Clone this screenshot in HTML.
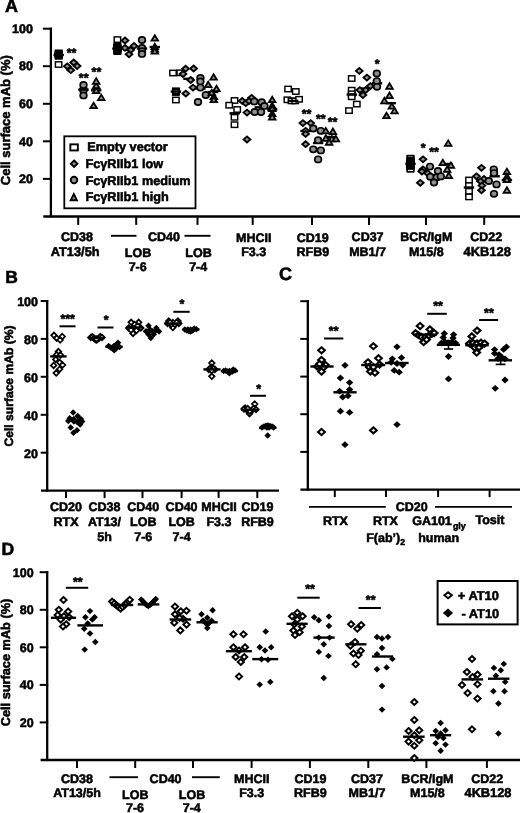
<!DOCTYPE html>
<html lang="en">
<head>
<meta charset="utf-8">
<title>Cell surface mAb figure</title>
<style>
html,body{margin:0;padding:0;background:#fff;}
body{width:520px;height:813px;overflow:hidden;}
svg{display:block;will-change:transform;}
svg text{font-family:"Liberation Sans",Arial,Helvetica,sans-serif;font-weight:bold;fill:#000;stroke:#000;stroke-width:0.55px;text-rendering:geometricPrecision;}
</style>
</head>
<body>
<svg width="520" height="813" viewBox="0 0 520 813">
<rect x="0" y="0" width="520" height="813" fill="#fff"/>
<text x="5.0" y="12.3" text-anchor="start" font-size="18.0" >A</text>
<line x1="50.9" y1="27.7" x2="50.9" y2="217.5" stroke="#000" stroke-width="2.3"/>
<line x1="42.9" y1="28.7" x2="51.9" y2="28.7" stroke="#000" stroke-width="2"/>
<text x="32.9" y="32.9" text-anchor="end" font-size="12.5" >100</text>
<line x1="42.9" y1="66.2" x2="51.9" y2="66.2" stroke="#000" stroke-width="2"/>
<text x="32.9" y="70.4" text-anchor="end" font-size="12.5" >80</text>
<line x1="42.9" y1="103.8" x2="51.9" y2="103.8" stroke="#000" stroke-width="2"/>
<text x="32.9" y="107.9" text-anchor="end" font-size="12.5" >60</text>
<line x1="42.9" y1="141.3" x2="51.9" y2="141.3" stroke="#000" stroke-width="2"/>
<text x="32.9" y="145.5" text-anchor="end" font-size="12.5" >40</text>
<line x1="42.9" y1="178.9" x2="51.9" y2="178.9" stroke="#000" stroke-width="2"/>
<text x="32.9" y="183.0" text-anchor="end" font-size="12.5" >20</text>
<text transform="translate(9.9,120.2) rotate(-90)" text-anchor="middle" font-size="13.0">Cell surface mAb (%)</text>
<line x1="43.3" y1="216.5" x2="520.0" y2="216.5" stroke="#000" stroke-width="2.3"/>
<line x1="78.2" y1="216.4" x2="78.2" y2="224.9" stroke="#000" stroke-width="2"/>
<line x1="136.2" y1="216.4" x2="136.2" y2="224.9" stroke="#000" stroke-width="2"/>
<line x1="197.5" y1="216.4" x2="197.5" y2="224.9" stroke="#000" stroke-width="2"/>
<line x1="252.7" y1="216.4" x2="252.7" y2="224.9" stroke="#000" stroke-width="2"/>
<line x1="312.0" y1="216.4" x2="312.0" y2="224.9" stroke="#000" stroke-width="2"/>
<line x1="369.0" y1="216.4" x2="369.0" y2="224.9" stroke="#000" stroke-width="2"/>
<line x1="426.0" y1="216.4" x2="426.0" y2="224.9" stroke="#000" stroke-width="2"/>
<line x1="484.2" y1="216.4" x2="484.2" y2="224.9" stroke="#000" stroke-width="2"/>
<text x="77.0" y="241.3" text-anchor="middle" font-size="12.5" >CD38</text>
<text x="75.2" y="256.1" text-anchor="middle" font-size="12.8" >AT13/5h</text>
<text x="164.0" y="241.3" text-anchor="middle" font-size="12.5" >CD40</text>
<line x1="111.0" y1="235.8" x2="136.5" y2="235.8" stroke="#000" stroke-width="1.9"/>
<line x1="184.5" y1="235.8" x2="210.5" y2="235.8" stroke="#000" stroke-width="1.9"/>
<text x="138.0" y="256.6" text-anchor="middle" font-size="12.5" >LOB</text>
<text x="137.7" y="271.0" text-anchor="middle" font-size="12.5" >7-6</text>
<text x="198.5" y="256.6" text-anchor="middle" font-size="12.5" >LOB</text>
<text x="198.2" y="271.0" text-anchor="middle" font-size="12.5" >7-4</text>
<text x="253.7" y="241.6" text-anchor="middle" font-size="12.5" >MHCII</text>
<text x="253.7" y="256.2" text-anchor="middle" font-size="12.5" >F3.3</text>
<text x="312.8" y="241.6" text-anchor="middle" font-size="12.5" >CD19</text>
<text x="312.8" y="256.2" text-anchor="middle" font-size="12.5" >RFB9</text>
<text x="367.6" y="241.4" text-anchor="middle" font-size="12.5" >CD37</text>
<text x="367.6" y="256.1" text-anchor="middle" font-size="12.5" >MB1/7</text>
<text x="426.3" y="241.3" text-anchor="middle" font-size="12.5" >BCR/IgM</text>
<text x="426.3" y="256.1" text-anchor="middle" font-size="12.5" >M15/8</text>
<text x="486.2" y="241.3" text-anchor="middle" font-size="12.5" >CD22</text>
<text x="487.2" y="256.1" text-anchor="middle" font-size="12.9" >4KB128</text>
<rect x="64.3" y="136.3" width="131.2" height="72.0" fill="#fff" stroke="#000" stroke-width="1.8"/>
<rect x="70.35" y="144.35" width="7.50" height="6.10" fill="#fff" stroke="#000" stroke-width="1.9"/>
<text x="87.3" y="151.3" text-anchor="start" font-size="12.7" >Empty vector</text>
<polygon points="74.1,160.50 77.40,163.7 74.1,166.90 70.80,163.7" fill="#909090" stroke="#000" stroke-width="1.9"/>
<text x="85.5" y="168.0" text-anchor="start" font-size="12.7" >FcγRIIb1 low</text>
<ellipse cx="74.0" cy="180.0" rx="3.3" ry="3.3" fill="#8e8e8e" stroke="#000" stroke-width="1.85"/>
<text x="85.5" y="184.8" text-anchor="start" font-size="12.7" >FcγRIIb1 medium</text>
<polygon points="73.8,194.0 76.9,200.2 70.7,200.2" fill="#909090" stroke="#000" stroke-width="1.9"/>
<text x="85.5" y="201.4" text-anchor="start" font-size="12.7" >FcγRIIb1 high</text>
<line x1="91.0" y1="90.3" x2="101.4" y2="90.3" stroke="#000" stroke-width="2.4"/>
<rect x="55.40" y="61.80" width="6.40" height="5.40" fill="#fff" stroke="#000" stroke-width="1.45"/>
<rect x="55.50" y="51.90" width="6.40" height="5.40" fill="#fff" stroke="#000" stroke-width="1.45"/>
<rect x="55.50" y="53.60" width="6.40" height="5.40" fill="none" stroke="#000" stroke-width="1.45"/>
<rect x="55.50" y="52.90" width="6.40" height="5.40" fill="none" stroke="#000" stroke-width="1.45"/>
<rect x="55.50" y="52.20" width="6.40" height="5.40" fill="none" stroke="#000" stroke-width="1.45"/>
<rect x="55.50" y="51.50" width="6.40" height="5.40" fill="none" stroke="#000" stroke-width="1.45"/>
<rect x="55.50" y="50.80" width="6.40" height="5.40" fill="none" stroke="#000" stroke-width="1.45"/>
<rect x="55.50" y="50.20" width="6.40" height="5.40" fill="none" stroke="#000" stroke-width="1.45"/>
<polygon points="70.8,67.25 74.20,70.2 70.8,73.15 67.40,70.2" fill="#909090" stroke="#000" stroke-width="1.8"/>
<polygon points="67.3,63.35 70.70,66.3 67.3,69.25 63.90,66.3" fill="#909090" stroke="#000" stroke-width="1.8"/>
<polygon points="77.1,63.05 80.50,66.0 77.1,68.95 73.70,66.0" fill="#909090" stroke="#000" stroke-width="1.8"/>
<polygon points="73.7,59.55 77.10,62.5 73.7,65.45 70.30,62.5" fill="#909090" stroke="#000" stroke-width="1.8"/>
<ellipse cx="83.5" cy="89.4" rx="3.35" ry="3.1" fill="#8e8e8e" stroke="#000" stroke-width="1.65"/>
<ellipse cx="83.5" cy="90.6" rx="3.35" ry="3.1" fill="#8e8e8e" stroke="#000" stroke-width="1.65"/>
<ellipse cx="83.5" cy="85.0" rx="3.35" ry="3.1" fill="#8e8e8e" stroke="#000" stroke-width="1.65"/>
<ellipse cx="83.5" cy="95.4" rx="3.35" ry="3.1" fill="#8e8e8e" stroke="#000" stroke-width="1.65"/>
<polygon points="93.6,102.7 96.9,108.2 90.3,108.2" fill="#909090" stroke="#000" stroke-width="1.75"/>
<polygon points="101.3,94.6 104.6,100.1 98.0,100.1" fill="#909090" stroke="#000" stroke-width="1.75"/>
<polygon points="96.2,87.7 99.5,93.2 92.9,93.2" fill="#909090" stroke="#000" stroke-width="1.75"/>
<polygon points="96.2,82.7 99.5,88.2 92.9,88.2" fill="#909090" stroke="#000" stroke-width="1.75"/>
<polygon points="96.2,78.3 99.5,83.8 92.9,83.8" fill="#909090" stroke="#000" stroke-width="1.75"/>
<line x1="53.5" y1="55.0" x2="63.9" y2="55.0" stroke="#000" stroke-width="2.4"/>
<line x1="78.3" y1="89.6" x2="88.7" y2="89.6" stroke="#000" stroke-width="2.4"/>
<line x1="123.8" y1="47.9" x2="134.2" y2="47.9" stroke="#000" stroke-width="2.4"/>
<line x1="136.8" y1="48.5" x2="147.2" y2="48.5" stroke="#000" stroke-width="2.4"/>
<line x1="149.6" y1="47.0" x2="160.0" y2="47.0" stroke="#000" stroke-width="2.4"/>
<rect x="114.20" y="36.90" width="6.40" height="5.40" fill="#fff" stroke="#000" stroke-width="1.45"/>
<rect x="114.20" y="46.10" width="6.40" height="5.40" fill="#fff" stroke="#000" stroke-width="1.45"/>
<rect x="114.20" y="48.90" width="6.40" height="5.40" fill="none" stroke="#000" stroke-width="1.45"/>
<rect x="114.20" y="48.10" width="6.40" height="5.40" fill="none" stroke="#000" stroke-width="1.45"/>
<rect x="114.20" y="47.30" width="6.40" height="5.40" fill="none" stroke="#000" stroke-width="1.45"/>
<rect x="114.20" y="46.50" width="6.40" height="5.40" fill="none" stroke="#000" stroke-width="1.45"/>
<rect x="114.20" y="45.70" width="6.40" height="5.40" fill="none" stroke="#000" stroke-width="1.45"/>
<rect x="114.20" y="44.90" width="6.40" height="5.40" fill="none" stroke="#000" stroke-width="1.45"/>
<rect x="114.20" y="44.10" width="6.40" height="5.40" fill="none" stroke="#000" stroke-width="1.45"/>
<rect x="114.20" y="43.30" width="6.40" height="5.40" fill="none" stroke="#000" stroke-width="1.45"/>
<polygon points="125.0,37.55 128.40,40.5 125.0,43.45 121.60,40.5" fill="#909090" stroke="#000" stroke-width="1.8"/>
<polygon points="125.0,44.95 128.40,47.9 125.0,50.85 121.60,47.9" fill="#909090" stroke="#000" stroke-width="1.8"/>
<polygon points="134.0,42.95 137.40,45.9 134.0,48.85 130.60,45.9" fill="#909090" stroke="#000" stroke-width="1.8"/>
<polygon points="130.6,47.05 134.00,50.0 130.6,52.95 127.20,50.0" fill="#909090" stroke="#000" stroke-width="1.8"/>
<polygon points="129.0,51.35 132.40,54.3 129.0,57.25 125.60,54.3" fill="#909090" stroke="#000" stroke-width="1.8"/>
<ellipse cx="142.0" cy="40.0" rx="3.35" ry="3.1" fill="#8e8e8e" stroke="#000" stroke-width="1.65"/>
<ellipse cx="142.0" cy="47.9" rx="3.35" ry="3.1" fill="#8e8e8e" stroke="#000" stroke-width="1.65"/>
<ellipse cx="142.0" cy="51.2" rx="3.35" ry="3.1" fill="#8e8e8e" stroke="#000" stroke-width="1.65"/>
<ellipse cx="142.0" cy="53.9" rx="3.35" ry="3.1" fill="#8e8e8e" stroke="#000" stroke-width="1.65"/>
<polygon points="154.8,35.2 158.1,40.7 151.5,40.7" fill="#909090" stroke="#000" stroke-width="1.75"/>
<polygon points="154.8,43.7 158.1,49.2 151.5,49.2" fill="#909090" stroke="#000" stroke-width="1.75"/>
<polygon points="154.8,46.2 158.1,51.7 151.5,51.7" fill="#909090" stroke="#000" stroke-width="1.75"/>
<polygon points="154.8,48.2 158.1,53.7 151.5,53.7" fill="#909090" stroke="#000" stroke-width="1.75"/>
<line x1="112.2" y1="48.6" x2="122.6" y2="48.6" stroke="#000" stroke-width="2.4"/>
<line x1="183.3" y1="78.8" x2="193.7" y2="78.8" stroke="#000" stroke-width="2.4"/>
<line x1="195.2" y1="88.5" x2="205.6" y2="88.5" stroke="#000" stroke-width="2.4"/>
<line x1="207.8" y1="92.0" x2="218.2" y2="92.0" stroke="#000" stroke-width="2.4"/>
<rect x="169.80" y="70.30" width="6.40" height="5.40" fill="#fff" stroke="#000" stroke-width="1.45"/>
<rect x="177.00" y="70.10" width="6.40" height="5.40" fill="#fff" stroke="#000" stroke-width="1.45"/>
<rect x="172.70" y="97.30" width="6.40" height="5.40" fill="#fff" stroke="#000" stroke-width="1.45"/>
<rect x="172.70" y="88.90" width="6.40" height="5.40" fill="#fff" stroke="#000" stroke-width="1.45"/>
<rect x="172.70" y="89.80" width="6.40" height="5.40" fill="none" stroke="#000" stroke-width="1.45"/>
<rect x="172.70" y="88.90" width="6.40" height="5.40" fill="none" stroke="#000" stroke-width="1.45"/>
<rect x="172.70" y="88.10" width="6.40" height="5.40" fill="none" stroke="#000" stroke-width="1.45"/>
<polygon points="185.6,65.75 189.00,68.7 185.6,71.65 182.20,68.7" fill="#909090" stroke="#000" stroke-width="1.8"/>
<polygon points="193.6,65.55 197.00,68.5 193.6,71.45 190.20,68.5" fill="#909090" stroke="#000" stroke-width="1.8"/>
<polygon points="183.0,71.05 186.40,74.0 183.0,76.95 179.60,74.0" fill="#909090" stroke="#000" stroke-width="1.8"/>
<polygon points="190.7,77.05 194.10,80.0 190.7,82.95 187.30,80.0" fill="#909090" stroke="#000" stroke-width="1.8"/>
<polygon points="193.0,84.65 196.40,87.6 193.0,90.55 189.60,87.6" fill="#909090" stroke="#000" stroke-width="1.8"/>
<polygon points="185.8,90.65 189.20,93.6 185.8,96.55 182.40,93.6" fill="#909090" stroke="#000" stroke-width="1.8"/>
<ellipse cx="200.4" cy="78.0" rx="3.35" ry="3.1" fill="#8e8e8e" stroke="#000" stroke-width="1.65"/>
<ellipse cx="200.4" cy="81.5" rx="3.35" ry="3.1" fill="#8e8e8e" stroke="#000" stroke-width="1.65"/>
<ellipse cx="200.4" cy="87.6" rx="3.35" ry="3.1" fill="#8e8e8e" stroke="#000" stroke-width="1.65"/>
<ellipse cx="205.8" cy="95.0" rx="3.35" ry="3.1" fill="#8e8e8e" stroke="#000" stroke-width="1.65"/>
<ellipse cx="198.0" cy="102.0" rx="3.35" ry="3.1" fill="#8e8e8e" stroke="#000" stroke-width="1.65"/>
<polygon points="213.6,74.2 216.9,79.7 210.3,79.7" fill="#909090" stroke="#000" stroke-width="1.75"/>
<polygon points="208.2,81.7 211.5,87.2 204.9,87.2" fill="#909090" stroke="#000" stroke-width="1.75"/>
<polygon points="216.5,85.7 219.8,91.2 213.2,91.2" fill="#909090" stroke="#000" stroke-width="1.75"/>
<polygon points="211.8,89.7 215.1,95.2 208.5,95.2" fill="#909090" stroke="#000" stroke-width="1.75"/>
<polygon points="213.8,93.7 217.1,99.2 210.5,99.2" fill="#909090" stroke="#000" stroke-width="1.75"/>
<polygon points="213.8,96.7 217.1,102.2 210.5,102.2" fill="#909090" stroke="#000" stroke-width="1.75"/>
<line x1="170.7" y1="91.6" x2="181.1" y2="91.6" stroke="#000" stroke-width="2.4"/>
<line x1="229.5" y1="113.3" x2="239.9" y2="113.3" stroke="#000" stroke-width="2.4"/>
<line x1="241.8" y1="101.8" x2="252.2" y2="101.8" stroke="#000" stroke-width="2.4"/>
<line x1="254.6" y1="107.3" x2="265.0" y2="107.3" stroke="#000" stroke-width="2.4"/>
<line x1="267.0" y1="109.5" x2="277.4" y2="109.5" stroke="#000" stroke-width="2.4"/>
<rect x="231.30" y="97.80" width="6.40" height="5.40" fill="#fff" stroke="#000" stroke-width="1.45"/>
<rect x="226.00" y="102.50" width="6.40" height="5.40" fill="#fff" stroke="#000" stroke-width="1.45"/>
<rect x="234.00" y="106.80" width="6.40" height="5.40" fill="#fff" stroke="#000" stroke-width="1.45"/>
<rect x="231.30" y="114.60" width="6.40" height="5.40" fill="#fff" stroke="#000" stroke-width="1.45"/>
<rect x="231.30" y="122.00" width="6.40" height="5.40" fill="#fff" stroke="#000" stroke-width="1.45"/>
<polygon points="242.2,97.95 245.60,100.9 242.2,103.85 238.80,100.9" fill="#909090" stroke="#000" stroke-width="1.8"/>
<polygon points="245.8,100.25 249.20,103.2 245.8,106.15 242.40,103.2" fill="#909090" stroke="#000" stroke-width="1.8"/>
<polygon points="251.6,94.85 255.00,97.8 251.6,100.75 248.20,97.8" fill="#909090" stroke="#000" stroke-width="1.8"/>
<polygon points="249.0,98.05 252.40,101.0 249.0,103.95 245.60,101.0" fill="#909090" stroke="#000" stroke-width="1.8"/>
<polygon points="247.0,109.65 250.40,112.6 247.0,115.55 243.60,112.6" fill="#909090" stroke="#000" stroke-width="1.8"/>
<polygon points="247.0,136.55 250.40,139.5 247.0,142.45 243.60,139.5" fill="#909090" stroke="#000" stroke-width="1.8"/>
<ellipse cx="254.3" cy="101.4" rx="3.35" ry="3.1" fill="#8e8e8e" stroke="#000" stroke-width="1.65"/>
<ellipse cx="261.7" cy="102.2" rx="3.35" ry="3.1" fill="#8e8e8e" stroke="#000" stroke-width="1.65"/>
<ellipse cx="264.4" cy="105.9" rx="3.35" ry="3.1" fill="#8e8e8e" stroke="#000" stroke-width="1.65"/>
<ellipse cx="254.7" cy="112.0" rx="3.35" ry="3.1" fill="#8e8e8e" stroke="#000" stroke-width="1.65"/>
<ellipse cx="261.0" cy="112.0" rx="3.35" ry="3.1" fill="#8e8e8e" stroke="#000" stroke-width="1.65"/>
<polygon points="272.2,96.7 275.5,102.2 268.9,102.2" fill="#909090" stroke="#000" stroke-width="1.75"/>
<polygon points="272.2,102.6 275.5,108.1 268.9,108.1" fill="#909090" stroke="#000" stroke-width="1.75"/>
<polygon points="272.2,105.7 275.5,111.2 268.9,111.2" fill="#909090" stroke="#000" stroke-width="1.75"/>
<polygon points="272.2,110.7 275.5,116.2 268.9,116.2" fill="#909090" stroke="#000" stroke-width="1.75"/>
<polygon points="272.2,114.0 275.5,119.5 268.9,119.5" fill="#909090" stroke="#000" stroke-width="1.75"/>
<line x1="300.4" y1="131.0" x2="310.8" y2="131.0" stroke="#000" stroke-width="2.4"/>
<line x1="312.9" y1="143.0" x2="323.3" y2="143.0" stroke="#000" stroke-width="2.4"/>
<line x1="325.3" y1="137.0" x2="335.7" y2="137.0" stroke="#000" stroke-width="2.4"/>
<rect x="284.90" y="86.30" width="6.40" height="5.40" fill="#fff" stroke="#000" stroke-width="1.45"/>
<rect x="292.60" y="88.80" width="6.40" height="5.40" fill="#fff" stroke="#000" stroke-width="1.45"/>
<rect x="284.20" y="97.10" width="6.40" height="5.40" fill="#fff" stroke="#000" stroke-width="1.45"/>
<rect x="288.30" y="98.20" width="6.40" height="5.40" fill="#fff" stroke="#000" stroke-width="1.45"/>
<rect x="292.00" y="98.20" width="6.40" height="5.40" fill="#fff" stroke="#000" stroke-width="1.45"/>
<rect x="295.90" y="96.60" width="6.40" height="5.40" fill="#fff" stroke="#000" stroke-width="1.45"/>
<polygon points="302.9,120.15 306.30,123.1 302.9,126.05 299.50,123.1" fill="#909090" stroke="#000" stroke-width="1.8"/>
<polygon points="310.7,120.15 314.10,123.1 310.7,126.05 307.30,123.1" fill="#909090" stroke="#000" stroke-width="1.8"/>
<polygon points="305.6,127.85 309.00,130.8 305.6,133.75 302.20,130.8" fill="#909090" stroke="#000" stroke-width="1.8"/>
<polygon points="305.6,130.95 309.00,133.9 305.6,136.85 302.20,133.9" fill="#909090" stroke="#000" stroke-width="1.8"/>
<polygon points="305.6,141.25 309.00,144.2 305.6,147.15 302.20,144.2" fill="#909090" stroke="#000" stroke-width="1.8"/>
<ellipse cx="313.3" cy="128.5" rx="3.35" ry="3.1" fill="#8e8e8e" stroke="#000" stroke-width="1.65"/>
<ellipse cx="320.8" cy="130.8" rx="3.35" ry="3.1" fill="#8e8e8e" stroke="#000" stroke-width="1.65"/>
<ellipse cx="318.1" cy="140.2" rx="3.35" ry="3.1" fill="#8e8e8e" stroke="#000" stroke-width="1.65"/>
<ellipse cx="313.3" cy="149.3" rx="3.35" ry="3.1" fill="#8e8e8e" stroke="#000" stroke-width="1.65"/>
<ellipse cx="320.8" cy="150.4" rx="3.35" ry="3.1" fill="#8e8e8e" stroke="#000" stroke-width="1.65"/>
<ellipse cx="318.1" cy="159.4" rx="3.35" ry="3.1" fill="#8e8e8e" stroke="#000" stroke-width="1.65"/>
<polygon points="325.8,127.9 329.1,133.4 322.5,133.4" fill="#909090" stroke="#000" stroke-width="1.75"/>
<polygon points="332.9,128.5 336.2,134.0 329.6,134.0" fill="#909090" stroke="#000" stroke-width="1.75"/>
<polygon points="325.8,135.3 329.1,140.8 322.5,140.8" fill="#909090" stroke="#000" stroke-width="1.75"/>
<polygon points="331.8,135.9 335.1,141.4 328.5,141.4" fill="#909090" stroke="#000" stroke-width="1.75"/>
<polygon points="335.9,135.9 339.2,141.4 332.6,141.4" fill="#909090" stroke="#000" stroke-width="1.75"/>
<polygon points="329.1,139.3 332.4,144.8 325.8,144.8" fill="#909090" stroke="#000" stroke-width="1.75"/>
<line x1="288.0" y1="100.9" x2="298.4" y2="100.9" stroke="#000" stroke-width="2.4"/>
<line x1="358.8" y1="88.5" x2="369.2" y2="88.5" stroke="#000" stroke-width="2.4"/>
<line x1="371.8" y1="83.3" x2="382.2" y2="83.3" stroke="#000" stroke-width="2.4"/>
<line x1="385.5" y1="103.2" x2="395.9" y2="103.2" stroke="#000" stroke-width="2.4"/>
<rect x="348.50" y="75.80" width="6.40" height="5.40" fill="#fff" stroke="#000" stroke-width="1.45"/>
<rect x="348.50" y="87.50" width="6.40" height="5.40" fill="#fff" stroke="#000" stroke-width="1.45"/>
<rect x="348.50" y="91.10" width="6.40" height="5.40" fill="#fff" stroke="#000" stroke-width="1.45"/>
<rect x="348.50" y="94.10" width="6.40" height="5.40" fill="#fff" stroke="#000" stroke-width="1.45"/>
<rect x="353.60" y="101.40" width="6.40" height="5.40" fill="#fff" stroke="#000" stroke-width="1.45"/>
<rect x="345.80" y="107.90" width="6.40" height="5.40" fill="#fff" stroke="#000" stroke-width="1.45"/>
<polygon points="359.3,67.95 362.70,70.9 359.3,73.85 355.90,70.9" fill="#909090" stroke="#000" stroke-width="1.8"/>
<polygon points="366.9,74.65 370.30,77.6 366.9,80.55 363.50,77.6" fill="#909090" stroke="#000" stroke-width="1.8"/>
<polygon points="370.3,83.15 373.70,86.1 370.3,89.05 366.90,86.1" fill="#909090" stroke="#000" stroke-width="1.8"/>
<polygon points="365.6,87.15 369.00,90.1 365.6,93.05 362.20,90.1" fill="#909090" stroke="#000" stroke-width="1.8"/>
<polygon points="359.8,87.15 363.20,90.1 359.8,93.05 356.40,90.1" fill="#909090" stroke="#000" stroke-width="1.8"/>
<polygon points="362.9,92.15 366.30,95.1 362.9,98.05 359.50,95.1" fill="#909090" stroke="#000" stroke-width="1.8"/>
<ellipse cx="376.8" cy="73.5" rx="3.35" ry="3.1" fill="#8e8e8e" stroke="#000" stroke-width="1.65"/>
<ellipse cx="376.8" cy="81.1" rx="3.35" ry="3.1" fill="#8e8e8e" stroke="#000" stroke-width="1.65"/>
<ellipse cx="377.0" cy="86.8" rx="3.35" ry="3.1" fill="#8e8e8e" stroke="#000" stroke-width="1.65"/>
<polygon points="389.5,83.3 392.8,88.8 386.2,88.8" fill="#909090" stroke="#000" stroke-width="1.75"/>
<polygon points="389.5,92.5 392.8,98.0 386.2,98.0" fill="#909090" stroke="#000" stroke-width="1.75"/>
<polygon points="384.4,97.8 387.7,103.3 381.1,103.3" fill="#909090" stroke="#000" stroke-width="1.75"/>
<polygon points="391.8,103.2 395.1,108.7 388.5,108.7" fill="#909090" stroke="#000" stroke-width="1.75"/>
<polygon points="394.5,107.9 397.8,113.4 391.2,113.4" fill="#909090" stroke="#000" stroke-width="1.75"/>
<polygon points="386.5,112.7 389.8,118.2 383.2,118.2" fill="#909090" stroke="#000" stroke-width="1.75"/>
<line x1="346.6" y1="94.6" x2="357.0" y2="94.6" stroke="#000" stroke-width="2.4"/>
<line x1="417.8" y1="171.0" x2="428.2" y2="171.0" stroke="#000" stroke-width="2.4"/>
<line x1="429.8" y1="175.0" x2="440.2" y2="175.0" stroke="#000" stroke-width="2.4"/>
<line x1="442.3" y1="164.0" x2="452.7" y2="164.0" stroke="#000" stroke-width="2.4"/>
<rect x="407.30" y="166.30" width="6.40" height="5.40" fill="#fff" stroke="#000" stroke-width="1.45"/>
<rect x="407.30" y="155.60" width="6.40" height="5.40" fill="#fff" stroke="#000" stroke-width="1.45"/>
<rect x="407.30" y="166.30" width="6.40" height="5.40" fill="none" stroke="#000" stroke-width="1.45"/>
<rect x="407.30" y="155.60" width="6.40" height="5.40" fill="none" stroke="#000" stroke-width="1.45"/>
<rect x="407.30" y="163.70" width="6.40" height="5.40" fill="none" stroke="#000" stroke-width="1.45"/>
<rect x="407.30" y="163.20" width="6.40" height="5.40" fill="none" stroke="#000" stroke-width="1.45"/>
<rect x="407.30" y="162.40" width="6.40" height="5.40" fill="none" stroke="#000" stroke-width="1.45"/>
<rect x="407.30" y="161.60" width="6.40" height="5.40" fill="none" stroke="#000" stroke-width="1.45"/>
<rect x="407.30" y="160.80" width="6.40" height="5.40" fill="none" stroke="#000" stroke-width="1.45"/>
<rect x="407.30" y="160.00" width="6.40" height="5.40" fill="none" stroke="#000" stroke-width="1.45"/>
<rect x="407.30" y="159.20" width="6.40" height="5.40" fill="none" stroke="#000" stroke-width="1.45"/>
<rect x="407.30" y="158.40" width="6.40" height="5.40" fill="none" stroke="#000" stroke-width="1.45"/>
<rect x="407.30" y="157.60" width="6.40" height="5.40" fill="none" stroke="#000" stroke-width="1.45"/>
<polygon points="423.0,156.35 426.40,159.3 423.0,162.25 419.60,159.3" fill="#909090" stroke="#000" stroke-width="1.8"/>
<polygon points="423.0,166.35 426.40,169.3 423.0,172.25 419.60,169.3" fill="#909090" stroke="#000" stroke-width="1.8"/>
<polygon points="421.9,168.55 425.30,171.5 421.9,174.45 418.50,171.5" fill="#909090" stroke="#000" stroke-width="1.8"/>
<polygon points="427.6,170.35 431.00,173.3 427.6,176.25 424.20,173.3" fill="#909090" stroke="#000" stroke-width="1.8"/>
<polygon points="420.3,179.85 423.70,182.8 420.3,185.75 416.90,182.8" fill="#909090" stroke="#000" stroke-width="1.8"/>
<ellipse cx="430.0" cy="166.6" rx="3.35" ry="3.1" fill="#8e8e8e" stroke="#000" stroke-width="1.65"/>
<ellipse cx="438.0" cy="171.0" rx="3.35" ry="3.1" fill="#8e8e8e" stroke="#000" stroke-width="1.65"/>
<ellipse cx="430.3" cy="176.8" rx="3.35" ry="3.1" fill="#8e8e8e" stroke="#000" stroke-width="1.65"/>
<ellipse cx="436.7" cy="177.4" rx="3.35" ry="3.1" fill="#8e8e8e" stroke="#000" stroke-width="1.65"/>
<ellipse cx="440.8" cy="176.4" rx="3.35" ry="3.1" fill="#8e8e8e" stroke="#000" stroke-width="1.65"/>
<ellipse cx="434.0" cy="182.5" rx="3.35" ry="3.1" fill="#8e8e8e" stroke="#000" stroke-width="1.65"/>
<polygon points="448.2,140.4 451.5,145.9 444.9,145.9" fill="#909090" stroke="#000" stroke-width="1.75"/>
<polygon points="442.8,159.7 446.1,165.2 439.5,165.2" fill="#909090" stroke="#000" stroke-width="1.75"/>
<polygon points="450.9,162.4 454.2,167.9 447.6,167.9" fill="#909090" stroke="#000" stroke-width="1.75"/>
<polygon points="447.2,166.4 450.5,171.9 443.9,171.9" fill="#909090" stroke="#000" stroke-width="1.75"/>
<polygon points="448.8,172.5 452.1,178.0 445.5,178.0" fill="#909090" stroke="#000" stroke-width="1.75"/>
<line x1="405.3" y1="163.8" x2="415.7" y2="163.8" stroke="#000" stroke-width="2.4"/>
<line x1="476.3" y1="180.5" x2="486.7" y2="180.5" stroke="#000" stroke-width="2.4"/>
<line x1="489.4" y1="176.3" x2="499.8" y2="176.3" stroke="#000" stroke-width="2.4"/>
<line x1="501.7" y1="180.0" x2="512.1" y2="180.0" stroke="#000" stroke-width="2.4"/>
<rect x="465.80" y="177.30" width="6.40" height="5.40" fill="#fff" stroke="#000" stroke-width="1.45"/>
<rect x="465.80" y="182.90" width="6.40" height="5.40" fill="#fff" stroke="#000" stroke-width="1.45"/>
<rect x="465.80" y="188.60" width="6.40" height="5.40" fill="#fff" stroke="#000" stroke-width="1.45"/>
<rect x="465.80" y="194.20" width="6.40" height="5.40" fill="#fff" stroke="#000" stroke-width="1.45"/>
<polygon points="481.5,164.85 484.90,167.8 481.5,170.75 478.10,167.8" fill="#909090" stroke="#000" stroke-width="1.8"/>
<polygon points="476.5,173.35 479.90,176.3 476.5,179.25 473.10,176.3" fill="#909090" stroke="#000" stroke-width="1.8"/>
<polygon points="484.0,176.05 487.40,179.0 484.0,181.95 480.60,179.0" fill="#909090" stroke="#000" stroke-width="1.8"/>
<polygon points="480.6,178.35 484.00,181.3 480.6,184.25 477.20,181.3" fill="#909090" stroke="#000" stroke-width="1.8"/>
<polygon points="481.9,182.65 485.30,185.6 481.9,188.55 478.50,185.6" fill="#909090" stroke="#000" stroke-width="1.8"/>
<polygon points="481.5,187.35 484.90,190.3 481.5,193.25 478.10,190.3" fill="#909090" stroke="#000" stroke-width="1.8"/>
<ellipse cx="493.8" cy="169.4" rx="3.35" ry="3.1" fill="#8e8e8e" stroke="#000" stroke-width="1.65"/>
<ellipse cx="494.0" cy="173.1" rx="3.35" ry="3.1" fill="#8e8e8e" stroke="#000" stroke-width="1.65"/>
<ellipse cx="488.8" cy="181.0" rx="3.35" ry="3.1" fill="#8e8e8e" stroke="#000" stroke-width="1.65"/>
<ellipse cx="496.5" cy="184.4" rx="3.35" ry="3.1" fill="#8e8e8e" stroke="#000" stroke-width="1.65"/>
<ellipse cx="494.0" cy="193.8" rx="3.35" ry="3.1" fill="#8e8e8e" stroke="#000" stroke-width="1.65"/>
<polygon points="506.9,168.6 510.2,174.1 503.6,174.1" fill="#909090" stroke="#000" stroke-width="1.75"/>
<polygon points="506.9,173.6 510.2,179.1 503.6,179.1" fill="#909090" stroke="#000" stroke-width="1.75"/>
<polygon points="506.9,176.7 510.2,182.2 503.6,182.2" fill="#909090" stroke="#000" stroke-width="1.75"/>
<polygon points="506.9,187.3 510.2,192.8 503.6,192.8" fill="#909090" stroke="#000" stroke-width="1.75"/>
<line x1="463.8" y1="187.5" x2="474.2" y2="187.5" stroke="#000" stroke-width="2.4"/>
<text x="71.6" y="56.7" text-anchor="middle" font-size="12.5" >**</text>
<text x="83.7" y="81.7" text-anchor="middle" font-size="12.5" >**</text>
<text x="96.4" y="76.0" text-anchor="middle" font-size="12.5" >**</text>
<text x="306.5" y="118.2" text-anchor="middle" font-size="12.5" >**</text>
<text x="320.8" y="122.7" text-anchor="middle" font-size="12.5" >**</text>
<text x="332.5" y="125.9" text-anchor="middle" font-size="12.5" >**</text>
<text x="377.3" y="67.7" text-anchor="middle" font-size="12.5" >*</text>
<text x="423.3" y="151.8" text-anchor="middle" font-size="12.5" >*</text>
<text x="434.0" y="156.4" text-anchor="middle" font-size="12.5" >**</text>
<text x="5.3" y="282.7" text-anchor="start" font-size="17.5" >B</text>
<line x1="47.2" y1="300.0" x2="47.2" y2="491.7" stroke="#000" stroke-width="2.3"/>
<line x1="40.7" y1="301.0" x2="48.2" y2="301.0" stroke="#000" stroke-width="2"/>
<text x="38.0" y="305.9" text-anchor="end" font-size="12.5" >100</text>
<line x1="40.7" y1="338.9" x2="48.2" y2="338.9" stroke="#000" stroke-width="2"/>
<text x="38.0" y="343.8" text-anchor="end" font-size="12.5" >80</text>
<line x1="40.7" y1="376.8" x2="48.2" y2="376.8" stroke="#000" stroke-width="2"/>
<text x="38.0" y="381.7" text-anchor="end" font-size="12.5" >60</text>
<line x1="40.7" y1="414.8" x2="48.2" y2="414.8" stroke="#000" stroke-width="2"/>
<text x="38.0" y="419.7" text-anchor="end" font-size="12.5" >40</text>
<line x1="40.7" y1="452.7" x2="48.2" y2="452.7" stroke="#000" stroke-width="2"/>
<text x="38.0" y="457.6" text-anchor="end" font-size="12.5" >20</text>
<text transform="translate(12.8,386.0) rotate(-90)" text-anchor="middle" font-size="12.1">Cell surface mAb (%)</text>
<line x1="41.0" y1="490.6" x2="279.0" y2="490.6" stroke="#000" stroke-width="2.3"/>
<line x1="66.0" y1="490.6" x2="66.0" y2="498.1" stroke="#000" stroke-width="2"/>
<line x1="104.6" y1="490.6" x2="104.6" y2="498.1" stroke="#000" stroke-width="2"/>
<line x1="142.5" y1="490.6" x2="142.5" y2="498.1" stroke="#000" stroke-width="2"/>
<line x1="181.6" y1="490.6" x2="181.6" y2="498.1" stroke="#000" stroke-width="2"/>
<line x1="218.6" y1="490.6" x2="218.6" y2="498.1" stroke="#000" stroke-width="2"/>
<line x1="257.3" y1="490.6" x2="257.3" y2="498.1" stroke="#000" stroke-width="2"/>
<text x="66.0" y="511.0" text-anchor="middle" font-size="12.5" >CD20</text>
<text x="66.0" y="525.8" text-anchor="middle" font-size="12.5" >RTX</text>
<text x="104.5" y="511.0" text-anchor="middle" font-size="12.5" >CD38</text>
<text x="104.5" y="525.8" text-anchor="middle" font-size="12.5" >AT13/</text>
<text x="104.5" y="540.6" text-anchor="middle" font-size="12.5" >5h</text>
<text x="143.3" y="511.0" text-anchor="middle" font-size="12.5" >CD40</text>
<text x="143.3" y="525.8" text-anchor="middle" font-size="12.5" >LOB</text>
<text x="143.3" y="540.6" text-anchor="middle" font-size="12.5" >7-6</text>
<text x="181.6" y="511.0" text-anchor="middle" font-size="12.5" >CD40</text>
<text x="181.6" y="525.8" text-anchor="middle" font-size="12.5" >LOB</text>
<text x="181.6" y="540.6" text-anchor="middle" font-size="12.5" >7-4</text>
<text x="219.0" y="511.0" text-anchor="middle" font-size="12.5" >MHCII</text>
<text x="219.0" y="525.8" text-anchor="middle" font-size="12.5" >F3.3</text>
<text x="257.5" y="511.0" text-anchor="middle" font-size="12.5" >CD19</text>
<text x="257.5" y="525.8" text-anchor="middle" font-size="12.5" >RFB9</text>
<polygon points="54.0,332.55 56.75,335.3 54.0,338.05 51.25,335.3" fill="#fff" stroke="#000" stroke-width="1.75"/>
<polygon points="62.2,333.75 64.95,336.5 62.2,339.25 59.45,336.5" fill="#fff" stroke="#000" stroke-width="1.75"/>
<polygon points="56.7,335.45 59.45,338.2 56.7,340.95 53.95,338.2" fill="#fff" stroke="#000" stroke-width="1.75"/>
<polygon points="60.1,337.25 62.85,340.0 60.1,342.75 57.35,340.0" fill="#fff" stroke="#000" stroke-width="1.75"/>
<polygon points="58.4,348.85 61.15,351.6 58.4,354.35 55.65,351.6" fill="#fff" stroke="#000" stroke-width="1.75"/>
<polygon points="56.7,351.95 59.45,354.7 56.7,357.45 53.95,354.7" fill="#fff" stroke="#000" stroke-width="1.75"/>
<polygon points="60.5,352.25 63.25,355.0 60.5,357.75 57.75,355.0" fill="#fff" stroke="#000" stroke-width="1.75"/>
<polygon points="55.7,356.65 58.45,359.4 55.7,362.15 52.95,359.4" fill="#fff" stroke="#000" stroke-width="1.75"/>
<polygon points="59.6,359.55 62.35,362.3 59.6,365.05 56.85,362.3" fill="#fff" stroke="#000" stroke-width="1.75"/>
<polygon points="53.6,362.65 56.35,365.4 53.6,368.15 50.85,365.4" fill="#fff" stroke="#000" stroke-width="1.75"/>
<polygon points="62.6,362.25 65.35,365.0 62.6,367.75 59.85,365.0" fill="#fff" stroke="#000" stroke-width="1.75"/>
<polygon points="59.6,366.45 62.35,369.2 59.6,371.95 56.85,369.2" fill="#fff" stroke="#000" stroke-width="1.75"/>
<polygon points="56.2,370.35 58.95,373.1 56.2,375.85 53.45,373.1" fill="#fff" stroke="#000" stroke-width="1.75"/>
<line x1="50.2" y1="356.4" x2="66.6" y2="356.4" stroke="#000" stroke-width="2.4"/>
<polygon points="73.2,409.35 76.45,412.6 73.2,415.85 69.95,412.6" fill="#000"/>
<polygon points="69.7,414.95 72.95,418.2 69.7,421.45 66.45,418.2" fill="#000"/>
<polygon points="68.3,417.65 71.55,420.9 68.3,424.15 65.05,420.9" fill="#000"/>
<polygon points="73.9,415.65 77.15,418.9 73.9,422.15 70.65,418.9" fill="#000"/>
<polygon points="77.7,412.85 80.95,416.1 77.7,419.35 74.45,416.1" fill="#000"/>
<polygon points="80.8,415.65 84.05,418.9 80.8,422.15 77.55,418.9" fill="#000"/>
<polygon points="82.2,418.35 85.45,421.6 82.2,424.85 78.95,421.6" fill="#000"/>
<polygon points="80.1,421.15 83.35,424.4 80.1,427.65 76.85,424.4" fill="#000"/>
<polygon points="77.3,419.05 80.55,422.3 77.3,425.55 74.05,422.3" fill="#000"/>
<polygon points="73.9,418.35 77.15,421.6 73.9,424.85 70.65,421.6" fill="#000"/>
<polygon points="70.7,424.25 73.95,427.5 70.7,430.75 67.45,427.5" fill="#000"/>
<polygon points="77.0,427.05 80.25,430.3 77.0,433.55 73.75,430.3" fill="#000"/>
<polygon points="73.5,429.45 76.75,432.7 73.5,435.95 70.25,432.7" fill="#000"/>
<line x1="66.5" y1="420.5" x2="82.1" y2="420.5" stroke="#000" stroke-width="2.4"/>
<text x="67.7" y="323.4" text-anchor="middle" font-size="12.5" >***</text>
<line x1="59.6" y1="326.3" x2="75.6" y2="326.3" stroke="#000" stroke-width="2"/>
<polygon points="90.8,334.85 93.55,337.6 90.8,340.35 88.05,337.6" fill="#fff" stroke="#000" stroke-width="1.75"/>
<polygon points="92.4,334.05 95.15,336.8 92.4,339.55 89.65,336.8" fill="#fff" stroke="#000" stroke-width="1.75"/>
<polygon points="94.0,335.45 96.75,338.2 94.0,340.95 91.25,338.2" fill="#fff" stroke="#000" stroke-width="1.75"/>
<polygon points="95.4,336.65 98.15,339.4 95.4,342.15 92.65,339.4" fill="#fff" stroke="#000" stroke-width="1.75"/>
<polygon points="96.4,337.25 99.15,340.0 96.4,342.75 93.65,340.0" fill="#fff" stroke="#000" stroke-width="1.75"/>
<polygon points="97.4,336.65 100.15,339.4 97.4,342.15 94.65,339.4" fill="#fff" stroke="#000" stroke-width="1.75"/>
<polygon points="98.8,335.45 101.55,338.2 98.8,340.95 96.05,338.2" fill="#fff" stroke="#000" stroke-width="1.75"/>
<polygon points="100.4,333.85 103.15,336.6 100.4,339.35 97.65,336.6" fill="#fff" stroke="#000" stroke-width="1.75"/>
<polygon points="102.0,334.65 104.75,337.4 102.0,340.15 99.25,337.4" fill="#fff" stroke="#000" stroke-width="1.75"/>
<polygon points="96.4,336.25 99.15,339.0 96.4,341.75 93.65,339.0" fill="#fff" stroke="#000" stroke-width="1.75"/>
<line x1="88.2" y1="338.0" x2="104.6" y2="338.0" stroke="#000" stroke-width="2.4"/>
<polygon points="108.6,342.75 111.85,346.0 108.6,349.25 105.35,346.0" fill="#000"/>
<polygon points="110.6,344.15 113.85,347.4 110.6,350.65 107.35,347.4" fill="#000"/>
<polygon points="112.6,345.35 115.85,348.6 112.6,351.85 109.35,348.6" fill="#000"/>
<polygon points="114.2,346.95 117.45,350.2 114.2,353.45 110.95,350.2" fill="#000"/>
<polygon points="116.0,345.15 119.25,348.4 116.0,351.65 112.75,348.4" fill="#000"/>
<polygon points="117.8,343.15 121.05,346.4 117.8,349.65 114.55,346.4" fill="#000"/>
<polygon points="119.6,343.75 122.85,347.0 119.6,350.25 116.35,347.0" fill="#000"/>
<polygon points="118.0,339.55 121.25,342.8 118.0,346.05 114.75,342.8" fill="#000"/>
<polygon points="115.4,341.95 118.65,345.2 115.4,348.45 112.15,345.2" fill="#000"/>
<polygon points="113.6,342.95 116.85,346.2 113.6,349.45 110.35,346.2" fill="#000"/>
<line x1="105.4" y1="346.8" x2="122.6" y2="346.8" stroke="#000" stroke-width="2.4"/>
<text x="106.1" y="323.9" text-anchor="middle" font-size="12.5" >*</text>
<line x1="97.5" y1="327.5" x2="113.5" y2="327.5" stroke="#000" stroke-width="2"/>
<polygon points="131.2,319.55 133.95,322.3 131.2,325.05 128.45,322.3" fill="#fff" stroke="#000" stroke-width="1.75"/>
<polygon points="138.7,319.55 141.45,322.3 138.7,325.05 135.95,322.3" fill="#fff" stroke="#000" stroke-width="1.75"/>
<polygon points="128.7,325.15 131.45,327.9 128.7,330.65 125.95,327.9" fill="#fff" stroke="#000" stroke-width="1.75"/>
<polygon points="134.7,324.25 137.45,327.0 134.7,329.75 131.95,327.0" fill="#fff" stroke="#000" stroke-width="1.75"/>
<polygon points="140.8,325.15 143.55,327.9 140.8,330.65 138.05,327.9" fill="#fff" stroke="#000" stroke-width="1.75"/>
<polygon points="133.0,330.65 135.75,333.4 133.0,336.15 130.25,333.4" fill="#fff" stroke="#000" stroke-width="1.75"/>
<polygon points="136.5,327.75 139.25,330.5 136.5,333.25 133.75,330.5" fill="#fff" stroke="#000" stroke-width="1.75"/>
<polygon points="131.0,327.25 133.75,330.0 131.0,332.75 128.25,330.0" fill="#fff" stroke="#000" stroke-width="1.75"/>
<polygon points="134.7,321.75 137.45,324.5 134.7,327.25 131.95,324.5" fill="#fff" stroke="#000" stroke-width="1.75"/>
<polygon points="137.6,323.25 140.35,326.0 137.6,328.75 134.85,326.0" fill="#fff" stroke="#000" stroke-width="1.75"/>
<line x1="126.3" y1="327.5" x2="143.1" y2="327.5" stroke="#000" stroke-width="2.4"/>
<polygon points="148.5,322.55 151.75,325.8 148.5,329.05 145.25,325.8" fill="#000"/>
<polygon points="156.3,324.65 159.55,327.9 156.3,331.15 153.05,327.9" fill="#000"/>
<polygon points="146.0,328.05 149.25,331.3 146.0,334.55 142.75,331.3" fill="#000"/>
<polygon points="152.0,327.75 155.25,331.0 152.0,334.25 148.75,331.0" fill="#000"/>
<polygon points="159.0,328.25 162.25,331.5 159.0,334.75 155.75,331.5" fill="#000"/>
<polygon points="148.5,331.15 151.75,334.4 148.5,337.65 145.25,334.4" fill="#000"/>
<polygon points="153.7,331.15 156.95,334.4 153.7,337.65 150.45,334.4" fill="#000"/>
<polygon points="150.8,334.65 154.05,337.9 150.8,341.15 147.55,337.9" fill="#000"/>
<polygon points="155.5,327.75 158.75,331.0 155.5,334.25 152.25,331.0" fill="#000"/>
<polygon points="150.0,326.25 153.25,329.5 150.0,332.75 146.75,329.5" fill="#000"/>
<line x1="143.8" y1="331.7" x2="161.0" y2="331.7" stroke="#000" stroke-width="2.4"/>
<polygon points="168.8,318.25 171.55,321.0 168.8,323.75 166.05,321.0" fill="#fff" stroke="#000" stroke-width="1.75"/>
<polygon points="178.0,318.25 180.75,321.0 178.0,323.75 175.25,321.0" fill="#fff" stroke="#000" stroke-width="1.75"/>
<polygon points="167.6,320.75 170.35,323.5 167.6,326.25 164.85,323.5" fill="#fff" stroke="#000" stroke-width="1.75"/>
<polygon points="178.8,320.75 181.55,323.5 178.8,326.25 176.05,323.5" fill="#fff" stroke="#000" stroke-width="1.75"/>
<polygon points="172.8,324.75 175.55,327.5 172.8,330.25 170.05,327.5" fill="#fff" stroke="#000" stroke-width="1.75"/>
<polygon points="171.0,321.75 173.75,324.5 171.0,327.25 168.25,324.5" fill="#fff" stroke="#000" stroke-width="1.75"/>
<polygon points="175.0,321.75 177.75,324.5 175.0,327.25 172.25,324.5" fill="#fff" stroke="#000" stroke-width="1.75"/>
<polygon points="173.0,319.75 175.75,322.5 173.0,325.25 170.25,322.5" fill="#fff" stroke="#000" stroke-width="1.75"/>
<polygon points="170.0,319.75 172.75,322.5 170.0,325.25 167.25,322.5" fill="#fff" stroke="#000" stroke-width="1.75"/>
<polygon points="176.5,319.75 179.25,322.5 176.5,325.25 173.75,322.5" fill="#fff" stroke="#000" stroke-width="1.75"/>
<line x1="164.6" y1="323.5" x2="181.4" y2="323.5" stroke="#000" stroke-width="2.4"/>
<polygon points="184.8,326.35 188.05,329.6 184.8,332.85 181.55,329.6" fill="#000"/>
<polygon points="186.8,327.15 190.05,330.4 186.8,333.65 183.55,330.4" fill="#000"/>
<polygon points="188.8,327.75 192.05,331.0 188.8,334.25 185.55,331.0" fill="#000"/>
<polygon points="190.6,328.15 193.85,331.4 190.6,334.65 187.35,331.4" fill="#000"/>
<polygon points="192.4,327.15 195.65,330.4 192.4,333.65 189.15,330.4" fill="#000"/>
<polygon points="194.4,325.55 197.65,328.8 194.4,332.05 191.15,328.8" fill="#000"/>
<polygon points="196.4,325.95 199.65,329.2 196.4,332.45 193.15,329.2" fill="#000"/>
<polygon points="190.6,326.15 193.85,329.4 190.6,332.65 187.35,329.4" fill="#000"/>
<polygon points="188.0,326.15 191.25,329.4 188.0,332.65 184.75,329.4" fill="#000"/>
<polygon points="193.2,326.35 196.45,329.6 193.2,332.85 189.95,329.6" fill="#000"/>
<line x1="182.6" y1="329.5" x2="199.4" y2="329.5" stroke="#000" stroke-width="2.4"/>
<text x="181.9" y="308.2" text-anchor="middle" font-size="12.5" >*</text>
<line x1="173.3" y1="311.8" x2="189.7" y2="311.8" stroke="#000" stroke-width="2"/>
<polygon points="211.8,360.25 214.55,363.0 211.8,365.75 209.05,363.0" fill="#fff" stroke="#000" stroke-width="1.75"/>
<polygon points="211.8,364.55 214.55,367.3 211.8,370.05 209.05,367.3" fill="#fff" stroke="#000" stroke-width="1.75"/>
<polygon points="208.8,366.65 211.55,369.4 208.8,372.15 206.05,369.4" fill="#fff" stroke="#000" stroke-width="1.75"/>
<polygon points="214.9,366.65 217.65,369.4 214.9,372.15 212.15,369.4" fill="#fff" stroke="#000" stroke-width="1.75"/>
<polygon points="211.8,373.55 214.55,376.3 211.8,379.05 209.05,376.3" fill="#fff" stroke="#000" stroke-width="1.75"/>
<polygon points="210.2,365.85 212.95,368.6 210.2,371.35 207.45,368.6" fill="#fff" stroke="#000" stroke-width="1.75"/>
<polygon points="213.4,365.85 216.15,368.6 213.4,371.35 210.65,368.6" fill="#fff" stroke="#000" stroke-width="1.75"/>
<polygon points="211.8,367.75 214.55,370.5 211.8,373.25 209.05,370.5" fill="#fff" stroke="#000" stroke-width="1.75"/>
<line x1="203.4" y1="369.4" x2="220.6" y2="369.4" stroke="#000" stroke-width="2.4"/>
<polygon points="223.6,367.75 226.85,371.0 223.6,374.25 220.35,371.0" fill="#000"/>
<polygon points="225.6,367.15 228.85,370.4 225.6,373.65 222.35,370.4" fill="#000"/>
<polygon points="227.6,368.35 230.85,371.6 227.6,374.85 224.35,371.6" fill="#000"/>
<polygon points="229.4,369.95 232.65,373.2 229.4,376.45 226.15,373.2" fill="#000"/>
<polygon points="231.2,368.35 234.45,371.6 231.2,374.85 227.95,371.6" fill="#000"/>
<polygon points="233.2,366.35 236.45,369.6 233.2,372.85 229.95,369.6" fill="#000"/>
<polygon points="235.0,367.35 238.25,370.6 235.0,373.85 231.75,370.6" fill="#000"/>
<polygon points="229.4,367.75 232.65,371.0 229.4,374.25 226.15,371.0" fill="#000"/>
<polygon points="232.4,368.15 235.65,371.4 232.4,374.65 229.15,371.4" fill="#000"/>
<line x1="221.0" y1="371.1" x2="237.8" y2="371.1" stroke="#000" stroke-width="2.4"/>
<polygon points="254.7,401.25 257.45,404.0 254.7,406.75 251.95,404.0" fill="#fff" stroke="#000" stroke-width="1.75"/>
<polygon points="245.2,405.25 247.95,408.0 245.2,410.75 242.45,408.0" fill="#fff" stroke="#000" stroke-width="1.75"/>
<polygon points="249.5,410.95 252.25,413.7 249.5,416.45 246.75,413.7" fill="#fff" stroke="#000" stroke-width="1.75"/>
<polygon points="247.0,407.25 249.75,410.0 247.0,412.75 244.25,410.0" fill="#fff" stroke="#000" stroke-width="1.75"/>
<polygon points="251.8,407.85 254.55,410.6 251.8,413.35 249.05,410.6" fill="#fff" stroke="#000" stroke-width="1.75"/>
<polygon points="253.6,405.65 256.35,408.4 253.6,411.15 250.85,408.4" fill="#fff" stroke="#000" stroke-width="1.75"/>
<polygon points="244.0,406.25 246.75,409.0 244.0,411.75 241.25,409.0" fill="#fff" stroke="#000" stroke-width="1.75"/>
<polygon points="256.0,406.65 258.75,409.4 256.0,412.15 253.25,409.4" fill="#fff" stroke="#000" stroke-width="1.75"/>
<polygon points="249.6,408.25 252.35,411.0 249.6,413.75 246.85,411.0" fill="#fff" stroke="#000" stroke-width="1.75"/>
<polygon points="247.8,405.85 250.55,408.6 247.8,411.35 245.05,408.6" fill="#fff" stroke="#000" stroke-width="1.75"/>
<line x1="241.2" y1="409.7" x2="258.8" y2="409.7" stroke="#000" stroke-width="2.4"/>
<polygon points="262.0,424.15 265.25,427.4 262.0,430.65 258.75,427.4" fill="#000"/>
<polygon points="264.0,423.15 267.25,426.4 264.0,429.65 260.75,426.4" fill="#000"/>
<polygon points="266.0,422.55 269.25,425.8 266.0,429.05 262.75,425.8" fill="#000"/>
<polygon points="268.0,422.35 271.25,425.6 268.0,428.85 264.75,425.6" fill="#000"/>
<polygon points="270.0,422.75 273.25,426.0 270.0,429.25 266.75,426.0" fill="#000"/>
<polygon points="272.0,423.35 275.25,426.6 272.0,429.85 268.75,426.6" fill="#000"/>
<polygon points="273.6,424.35 276.85,427.6 273.6,430.85 270.35,427.6" fill="#000"/>
<polygon points="266.8,424.35 270.05,427.6 266.8,430.85 263.55,427.6" fill="#000"/>
<polygon points="269.0,424.35 272.25,427.6 269.0,430.85 265.75,427.6" fill="#000"/>
<polygon points="267.7,432.35 270.95,435.6 267.7,438.85 264.45,435.6" fill="#000"/>
<line x1="259.1" y1="427.9" x2="276.3" y2="427.9" stroke="#000" stroke-width="2.4"/>
<text x="258.7" y="393.1" text-anchor="middle" font-size="12.5" >*</text>
<line x1="250.0" y1="395.8" x2="266.0" y2="395.8" stroke="#000" stroke-width="2"/>
<text x="279.0" y="279.8" text-anchor="start" font-size="18.0" >C</text>
<line x1="307.8" y1="300.2" x2="307.8" y2="490.7" stroke="#000" stroke-width="2.3"/>
<line x1="300.3" y1="301.2" x2="308.8" y2="301.2" stroke="#000" stroke-width="2"/>
<line x1="300.3" y1="338.9" x2="308.8" y2="338.9" stroke="#000" stroke-width="2"/>
<line x1="300.3" y1="376.6" x2="308.8" y2="376.6" stroke="#000" stroke-width="2"/>
<line x1="300.3" y1="414.2" x2="308.8" y2="414.2" stroke="#000" stroke-width="2"/>
<line x1="300.3" y1="451.9" x2="308.8" y2="451.9" stroke="#000" stroke-width="2"/>
<line x1="300.4" y1="489.6" x2="520.0" y2="489.6" stroke="#000" stroke-width="2.3"/>
<line x1="334.8" y1="489.6" x2="334.8" y2="497.1" stroke="#000" stroke-width="2"/>
<line x1="386.0" y1="489.6" x2="386.0" y2="497.1" stroke="#000" stroke-width="2"/>
<line x1="438.1" y1="489.6" x2="438.1" y2="497.1" stroke="#000" stroke-width="2"/>
<line x1="489.6" y1="489.6" x2="489.6" y2="497.1" stroke="#000" stroke-width="2"/>
<line x1="308.9" y1="506.9" x2="385.8" y2="506.9" stroke="#000" stroke-width="1.9"/>
<line x1="435.0" y1="506.9" x2="512.0" y2="506.9" stroke="#000" stroke-width="1.9"/>
<text x="411.7" y="511.0" text-anchor="middle" font-size="12.5" >CD20</text>
<text x="335.4" y="525.3" text-anchor="middle" font-size="12.5" >RTX</text>
<text x="385.4" y="525.3" text-anchor="middle" font-size="12.5" >RTX</text>
<text x="412.2" y="525.0" text-anchor="start" font-size="12.5">GA101<tspan font-size="8.8" dx="1.2" dy="3.8">gly</tspan></text>
<text x="490.0" y="523.9" text-anchor="middle" font-size="12.5" >Tosit</text>
<text x="366.2" y="541.5" text-anchor="start" font-size="12.5">F(ab’)<tspan font-size="8.5" dy="3.2">2</tspan></text>
<text x="438.7" y="541.5" text-anchor="middle" font-size="12.5" >human</text>
<polygon points="321.5,347.30 324.85,350.3 321.5,353.30 318.15,350.3" fill="#fff" stroke="#000" stroke-width="2.1"/>
<polygon points="321.5,357.00 324.85,360.0 321.5,363.00 318.15,360.0" fill="#fff" stroke="#000" stroke-width="2.1"/>
<polygon points="317.3,363.50 320.65,366.5 317.3,369.50 313.95,366.5" fill="#fff" stroke="#000" stroke-width="2.1"/>
<polygon points="325.4,362.00 328.75,365.0 325.4,368.00 322.05,365.0" fill="#fff" stroke="#000" stroke-width="2.1"/>
<polygon points="319.6,361.00 322.95,364.0 319.6,367.00 316.25,364.0" fill="#fff" stroke="#000" stroke-width="2.1"/>
<polygon points="323.4,364.60 326.75,367.6 323.4,370.60 320.05,367.6" fill="#fff" stroke="#000" stroke-width="2.1"/>
<polygon points="321.5,368.50 324.85,371.5 321.5,374.50 318.15,371.5" fill="#fff" stroke="#000" stroke-width="2.1"/>
<polygon points="321.5,429.00 324.85,432.0 321.5,435.00 318.15,432.0" fill="#fff" stroke="#000" stroke-width="2.1"/>
<line x1="310.4" y1="366.5" x2="333.6" y2="366.5" stroke="#000" stroke-width="2.4"/>
<polygon points="345.0,361.90 348.70,365.3 345.0,368.70 341.30,365.3" fill="#000"/>
<polygon points="340.4,374.60 344.10,378.0 340.4,381.40 336.70,378.0" fill="#000"/>
<polygon points="349.6,379.20 353.30,382.6 349.6,386.00 345.90,382.6" fill="#000"/>
<polygon points="339.7,387.80 343.40,391.2 339.7,394.60 336.00,391.2" fill="#000"/>
<polygon points="349.6,386.10 353.30,389.5 349.6,392.90 345.90,389.5" fill="#000"/>
<polygon points="342.7,393.60 346.40,397.0 342.7,400.40 339.00,397.0" fill="#000"/>
<polygon points="348.0,392.40 351.70,395.8 348.0,399.20 344.30,395.8" fill="#000"/>
<polygon points="340.4,407.80 344.10,411.2 340.4,414.60 336.70,411.2" fill="#000"/>
<polygon points="349.6,409.00 353.30,412.4 349.6,415.80 345.90,412.4" fill="#000"/>
<polygon points="345.0,441.30 348.70,444.7 345.0,448.10 341.30,444.7" fill="#000"/>
<line x1="333.4" y1="392.3" x2="356.6" y2="392.3" stroke="#000" stroke-width="2.4"/>
<text x="333.7" y="335.4" text-anchor="middle" font-size="12.5" >**</text>
<line x1="324.1" y1="338.5" x2="343.3" y2="338.5" stroke="#000" stroke-width="2"/>
<polygon points="373.4,343.20 376.75,346.2 373.4,349.20 370.05,346.2" fill="#fff" stroke="#000" stroke-width="2.1"/>
<polygon points="378.5,355.20 381.85,358.2 378.5,361.20 375.15,358.2" fill="#fff" stroke="#000" stroke-width="2.1"/>
<polygon points="368.0,359.30 371.35,362.3 368.0,365.30 364.65,362.3" fill="#fff" stroke="#000" stroke-width="2.1"/>
<polygon points="379.6,361.60 382.95,364.6 379.6,367.60 376.25,364.6" fill="#fff" stroke="#000" stroke-width="2.1"/>
<polygon points="369.2,364.00 372.55,367.0 369.2,370.00 365.85,367.0" fill="#fff" stroke="#000" stroke-width="2.1"/>
<polygon points="373.4,364.00 376.75,367.0 373.4,370.00 370.05,367.0" fill="#fff" stroke="#000" stroke-width="2.1"/>
<polygon points="370.4,368.50 373.75,371.5 370.4,374.50 367.05,371.5" fill="#fff" stroke="#000" stroke-width="2.1"/>
<polygon points="375.0,369.70 378.35,372.7 375.0,375.70 371.65,372.7" fill="#fff" stroke="#000" stroke-width="2.1"/>
<polygon points="373.4,427.40 376.75,430.4 373.4,433.40 370.05,430.4" fill="#fff" stroke="#000" stroke-width="2.1"/>
<line x1="361.2" y1="365.0" x2="385.2" y2="365.0" stroke="#000" stroke-width="2.4"/>
<polygon points="397.0,343.40 400.70,346.8 397.0,350.20 393.30,346.8" fill="#000"/>
<polygon points="392.3,355.40 396.00,358.8 392.3,362.20 388.60,358.8" fill="#000"/>
<polygon points="401.5,354.30 405.20,357.7 401.5,361.10 397.80,357.7" fill="#000"/>
<polygon points="391.2,358.90 394.90,362.3 391.2,365.70 387.50,362.3" fill="#000"/>
<polygon points="402.7,361.60 406.40,365.0 402.7,368.40 399.00,365.0" fill="#000"/>
<polygon points="394.2,367.00 397.90,370.4 394.2,373.80 390.50,370.4" fill="#000"/>
<polygon points="399.2,368.80 402.90,372.2 399.2,375.60 395.50,372.2" fill="#000"/>
<polygon points="397.0,360.10 400.70,363.5 397.0,366.90 393.30,363.5" fill="#000"/>
<polygon points="397.0,421.20 400.70,424.6 397.0,428.00 393.30,424.6" fill="#000"/>
<line x1="385.0" y1="363.0" x2="408.6" y2="363.0" stroke="#000" stroke-width="2.4"/>
<polygon points="420.1,323.00 423.45,326.0 420.1,329.00 416.75,326.0" fill="#fff" stroke="#000" stroke-width="2.1"/>
<polygon points="429.9,326.40 433.25,329.4 429.9,332.40 426.55,329.4" fill="#fff" stroke="#000" stroke-width="2.1"/>
<polygon points="415.6,330.20 418.95,333.2 415.6,336.20 412.25,333.2" fill="#fff" stroke="#000" stroke-width="2.1"/>
<polygon points="418.6,332.20 421.95,335.2 418.6,338.20 415.25,335.2" fill="#fff" stroke="#000" stroke-width="2.1"/>
<polygon points="421.6,334.00 424.95,337.0 421.6,340.00 418.25,337.0" fill="#fff" stroke="#000" stroke-width="2.1"/>
<polygon points="425.4,334.40 428.75,337.4 425.4,340.40 422.05,337.4" fill="#fff" stroke="#000" stroke-width="2.1"/>
<polygon points="428.8,332.60 432.15,335.6 428.8,338.60 425.45,335.6" fill="#fff" stroke="#000" stroke-width="2.1"/>
<polygon points="431.8,330.80 435.15,333.8 431.8,336.80 428.45,333.8" fill="#fff" stroke="#000" stroke-width="2.1"/>
<polygon points="434.2,330.00 437.55,333.0 434.2,336.00 430.85,333.0" fill="#fff" stroke="#000" stroke-width="2.1"/>
<polygon points="423.6,339.10 426.95,342.1 423.6,345.10 420.25,342.1" fill="#fff" stroke="#000" stroke-width="2.1"/>
<polygon points="426.6,336.60 429.95,339.6 426.6,342.60 423.25,339.6" fill="#fff" stroke="#000" stroke-width="2.1"/>
<line x1="413.2" y1="334.6" x2="436.8" y2="334.6" stroke="#000" stroke-width="2.4"/>
<line x1="448.5" y1="340.6" x2="448.5" y2="349.0" stroke="#000" stroke-width="1.6"/>
<line x1="444.3" y1="340.6" x2="452.7" y2="340.6" stroke="#000" stroke-width="1.6"/>
<line x1="443.9" y1="349.0" x2="453.1" y2="349.0" stroke="#000" stroke-width="1.7"/>
<polygon points="444.3,330.10 448.00,333.5 444.3,336.90 440.60,333.5" fill="#000"/>
<polygon points="453.6,331.20 457.30,334.6 453.6,338.00 449.90,334.6" fill="#000"/>
<polygon points="443.2,334.10 446.90,337.5 443.2,340.90 439.50,337.5" fill="#000"/>
<polygon points="453.0,334.60 456.70,338.0 453.0,341.40 449.30,338.0" fill="#000"/>
<polygon points="441.5,339.60 445.20,343.0 441.5,346.40 437.80,343.0" fill="#000"/>
<polygon points="445.0,338.60 448.70,342.0 445.0,345.40 441.30,342.0" fill="#000"/>
<polygon points="448.5,339.60 452.20,343.0 448.5,346.40 444.80,343.0" fill="#000"/>
<polygon points="452.0,338.80 455.70,342.2 452.0,345.60 448.30,342.2" fill="#000"/>
<polygon points="455.5,339.60 459.20,343.0 455.5,346.40 451.80,343.0" fill="#000"/>
<polygon points="448.5,353.10 452.20,356.5 448.5,359.90 444.80,356.5" fill="#000"/>
<polygon points="448.5,375.50 452.20,378.9 448.5,382.30 444.80,378.9" fill="#000"/>
<line x1="436.8" y1="344.8" x2="460.0" y2="344.8" stroke="#000" stroke-width="2.4"/>
<text x="438.1" y="310.2" text-anchor="middle" font-size="12.5" >**</text>
<line x1="427.2" y1="313.8" x2="446.8" y2="313.8" stroke="#000" stroke-width="2"/>
<polygon points="477.1,327.60 480.45,330.6 477.1,333.60 473.75,330.6" fill="#fff" stroke="#000" stroke-width="2.1"/>
<polygon points="471.8,333.40 475.15,336.4 471.8,339.40 468.45,336.4" fill="#fff" stroke="#000" stroke-width="2.1"/>
<polygon points="469.5,340.60 472.85,343.6 469.5,346.60 466.15,343.6" fill="#fff" stroke="#000" stroke-width="2.1"/>
<polygon points="473.2,340.00 476.55,343.0 473.2,346.00 469.85,343.0" fill="#fff" stroke="#000" stroke-width="2.1"/>
<polygon points="477.0,340.40 480.35,343.4 477.0,346.40 473.65,343.4" fill="#fff" stroke="#000" stroke-width="2.1"/>
<polygon points="481.0,339.60 484.35,342.6 481.0,345.60 477.65,342.6" fill="#fff" stroke="#000" stroke-width="2.1"/>
<polygon points="484.6,340.60 487.95,343.6 484.6,346.60 481.25,343.6" fill="#fff" stroke="#000" stroke-width="2.1"/>
<polygon points="474.6,344.60 477.95,347.6 474.6,350.60 471.25,347.6" fill="#fff" stroke="#000" stroke-width="2.1"/>
<polygon points="479.0,344.40 482.35,347.4 479.0,350.40 475.65,347.4" fill="#fff" stroke="#000" stroke-width="2.1"/>
<polygon points="476.7,349.60 480.05,352.6 476.7,355.60 473.35,352.6" fill="#fff" stroke="#000" stroke-width="2.1"/>
<line x1="465.2" y1="345.2" x2="488.8" y2="345.2" stroke="#000" stroke-width="2.4"/>
<line x1="500.6" y1="356.0" x2="500.6" y2="364.4" stroke="#000" stroke-width="1.6"/>
<line x1="495.7" y1="364.4" x2="505.5" y2="364.4" stroke="#000" stroke-width="1.7"/>
<polygon points="506.4,343.50 510.10,346.9 506.4,350.30 502.70,346.9" fill="#000"/>
<polygon points="503.6,346.00 507.30,349.4 503.6,352.80 499.90,349.4" fill="#000"/>
<polygon points="494.6,346.20 498.30,349.6 494.6,353.00 490.90,349.6" fill="#000"/>
<polygon points="494.6,350.00 498.30,353.4 494.6,356.80 490.90,353.4" fill="#000"/>
<polygon points="499.0,351.20 502.70,354.6 499.0,358.00 495.30,354.6" fill="#000"/>
<polygon points="502.0,354.00 505.70,357.4 502.0,360.80 498.30,357.4" fill="#000"/>
<polygon points="498.0,355.20 501.70,358.6 498.0,362.00 494.30,358.6" fill="#000"/>
<polygon points="505.0,355.40 508.70,358.8 505.0,362.20 501.30,358.8" fill="#000"/>
<polygon points="505.0,376.60 508.70,380.0 505.0,383.40 501.30,380.0" fill="#000"/>
<polygon points="495.2,384.90 498.90,388.3 495.2,391.70 491.50,388.3" fill="#000"/>
<line x1="488.6" y1="360.3" x2="512.0" y2="360.3" stroke="#000" stroke-width="2.4"/>
<text x="488.9" y="316.7" text-anchor="middle" font-size="12.5" >**</text>
<line x1="479.1" y1="320.0" x2="498.1" y2="320.0" stroke="#000" stroke-width="2"/>
<text x="1.5" y="554.9" text-anchor="start" font-size="17.6" >D</text>
<line x1="47.2" y1="571.2" x2="47.2" y2="761.1" stroke="#000" stroke-width="2.3"/>
<line x1="39.7" y1="572.2" x2="48.2" y2="572.2" stroke="#000" stroke-width="2"/>
<text x="33.6" y="576.6" text-anchor="end" font-size="12.5" >100</text>
<line x1="39.7" y1="609.8" x2="48.2" y2="609.8" stroke="#000" stroke-width="2"/>
<text x="33.6" y="614.2" text-anchor="end" font-size="12.5" >80</text>
<line x1="39.7" y1="647.3" x2="48.2" y2="647.3" stroke="#000" stroke-width="2"/>
<text x="33.6" y="651.7" text-anchor="end" font-size="12.5" >60</text>
<line x1="39.7" y1="684.9" x2="48.2" y2="684.9" stroke="#000" stroke-width="2"/>
<text x="33.6" y="689.3" text-anchor="end" font-size="12.5" >40</text>
<line x1="39.7" y1="722.4" x2="48.2" y2="722.4" stroke="#000" stroke-width="2"/>
<text x="33.6" y="726.8" text-anchor="end" font-size="12.5" >20</text>
<text transform="translate(10.0,662.5) rotate(-90)" text-anchor="middle" font-size="12.75">Cell surface mAb (%)</text>
<line x1="40.6" y1="760.0" x2="520.0" y2="760.0" stroke="#000" stroke-width="2.3"/>
<line x1="77.0" y1="760.0" x2="77.0" y2="768.0" stroke="#000" stroke-width="2"/>
<line x1="135.2" y1="760.0" x2="135.2" y2="768.0" stroke="#000" stroke-width="2"/>
<line x1="193.0" y1="760.0" x2="193.0" y2="768.0" stroke="#000" stroke-width="2"/>
<line x1="251.6" y1="760.0" x2="251.6" y2="768.0" stroke="#000" stroke-width="2"/>
<line x1="309.9" y1="760.0" x2="309.9" y2="768.0" stroke="#000" stroke-width="2"/>
<line x1="368.3" y1="760.0" x2="368.3" y2="768.0" stroke="#000" stroke-width="2"/>
<line x1="426.4" y1="760.0" x2="426.4" y2="768.0" stroke="#000" stroke-width="2"/>
<line x1="486.9" y1="760.0" x2="486.9" y2="768.0" stroke="#000" stroke-width="2"/>
<text x="77.0" y="782.6" text-anchor="middle" font-size="12.5" >CD38</text>
<text x="77.0" y="797.1" text-anchor="middle" font-size="12.5" >AT13/5h</text>
<text x="165.6" y="782.6" text-anchor="middle" font-size="12.5" >CD40</text>
<line x1="109.5" y1="777.2" x2="138.0" y2="777.2" stroke="#000" stroke-width="1.9"/>
<line x1="192.0" y1="777.2" x2="219.8" y2="777.2" stroke="#000" stroke-width="1.9"/>
<text x="135.3" y="798.8" text-anchor="middle" font-size="12.5" >LOB</text>
<text x="135.0" y="812.4" text-anchor="middle" font-size="12.5" >7-6</text>
<text x="192.0" y="798.8" text-anchor="middle" font-size="12.5" >LOB</text>
<text x="191.8" y="812.4" text-anchor="middle" font-size="12.5" >7-4</text>
<text x="251.7" y="782.6" text-anchor="middle" font-size="12.5" >MHCII</text>
<text x="251.7" y="797.4" text-anchor="middle" font-size="12.5" >F3.3</text>
<text x="310.4" y="782.6" text-anchor="middle" font-size="12.5" >CD19</text>
<text x="310.4" y="797.4" text-anchor="middle" font-size="12.5" >RFB9</text>
<text x="367.0" y="782.6" text-anchor="middle" font-size="12.5" >CD37</text>
<text x="367.0" y="797.3" text-anchor="middle" font-size="12.5" >MB1/7</text>
<text x="427.4" y="782.6" text-anchor="middle" font-size="12.5" >BCR/IgM</text>
<text x="427.4" y="797.3" text-anchor="middle" font-size="12.5" >M15/8</text>
<text x="487.3" y="782.6" text-anchor="middle" font-size="12.5" >CD22</text>
<text x="488.0" y="797.3" text-anchor="middle" font-size="12.8" >4KB128</text>
<rect x="437.6" y="581.0" width="80.0" height="43.4" fill="#fff" stroke="#000" stroke-width="2"/>
<polygon points="448.1,592.20 451.80,595.2 448.1,598.20 444.40,595.2" fill="#fff" stroke="#000" stroke-width="2.0"/>
<polygon points="448.0,608.50 453.10,613.0 448.0,617.50 442.90,613.0" fill="#000"/>
<text x="457.8" y="600.0" text-anchor="start" font-size="12.85" >+ AT10</text>
<text x="461.4" y="617.6" text-anchor="start" font-size="12.85" >- AT10</text>
<polygon points="63.5,597.05 66.60,600.0 63.5,602.95 60.40,600.0" fill="#fff" stroke="#000" stroke-width="1.95"/>
<polygon points="58.8,606.75 61.90,609.7 58.8,612.65 55.70,609.7" fill="#fff" stroke="#000" stroke-width="1.95"/>
<polygon points="68.1,608.55 71.20,611.5 68.1,614.45 65.00,611.5" fill="#fff" stroke="#000" stroke-width="1.95"/>
<polygon points="57.7,612.05 60.80,615.0 57.7,617.95 54.60,615.0" fill="#fff" stroke="#000" stroke-width="1.95"/>
<polygon points="63.9,613.25 67.00,616.2 63.9,619.15 60.80,616.2" fill="#fff" stroke="#000" stroke-width="1.95"/>
<polygon points="69.2,614.35 72.30,617.3 69.2,620.25 66.10,617.3" fill="#fff" stroke="#000" stroke-width="1.95"/>
<polygon points="60.7,616.65 63.80,619.6 60.7,622.55 57.60,619.6" fill="#fff" stroke="#000" stroke-width="1.95"/>
<polygon points="66.2,621.25 69.30,624.2 66.2,627.15 63.10,624.2" fill="#fff" stroke="#000" stroke-width="1.95"/>
<polygon points="63.0,623.55 66.10,626.5 63.0,629.45 59.90,626.5" fill="#fff" stroke="#000" stroke-width="1.95"/>
<line x1="50.9" y1="617.8" x2="76.1" y2="617.8" stroke="#000" stroke-width="2.4"/>
<polygon points="90.0,607.90 93.30,611.1 90.0,614.30 86.70,611.1" fill="#000"/>
<polygon points="85.4,614.10 88.70,617.3 85.4,620.50 82.10,617.3" fill="#000"/>
<polygon points="94.6,614.10 97.90,617.3 94.6,620.50 91.30,617.3" fill="#000"/>
<polygon points="92.3,616.40 95.60,619.6 92.3,622.80 89.00,619.6" fill="#000"/>
<polygon points="87.7,620.30 91.00,623.5 87.7,626.70 84.40,623.5" fill="#000"/>
<polygon points="84.2,625.60 87.50,628.8 84.2,632.00 80.90,628.8" fill="#000"/>
<polygon points="90.0,630.30 93.30,633.5 90.0,636.70 86.70,633.5" fill="#000"/>
<polygon points="95.3,638.80 98.60,642.0 95.3,645.20 92.00,642.0" fill="#000"/>
<polygon points="84.7,646.40 88.00,649.6 84.7,652.80 81.40,649.6" fill="#000"/>
<line x1="77.4" y1="625.4" x2="103.0" y2="625.4" stroke="#000" stroke-width="2.4"/>
<text x="77.8" y="585.6" text-anchor="middle" font-size="12.5" >**</text>
<line x1="65.8" y1="587.8" x2="88.2" y2="587.8" stroke="#000" stroke-width="2"/>
<polygon points="112.2,598.65 115.30,601.6 112.2,604.55 109.10,601.6" fill="#fff" stroke="#000" stroke-width="1.95"/>
<polygon points="114.3,600.45 117.40,603.4 114.3,606.35 111.20,603.4" fill="#fff" stroke="#000" stroke-width="1.95"/>
<polygon points="116.4,602.25 119.50,605.2 116.4,608.15 113.30,605.2" fill="#fff" stroke="#000" stroke-width="1.95"/>
<polygon points="118.5,604.05 121.60,607.0 118.5,609.95 115.40,607.0" fill="#fff" stroke="#000" stroke-width="1.95"/>
<polygon points="120.6,605.65 123.70,608.6 120.6,611.55 117.50,608.6" fill="#fff" stroke="#000" stroke-width="1.95"/>
<polygon points="122.6,604.05 125.70,607.0 122.6,609.95 119.50,607.0" fill="#fff" stroke="#000" stroke-width="1.95"/>
<polygon points="124.6,602.05 127.70,605.0 124.6,607.95 121.50,605.0" fill="#fff" stroke="#000" stroke-width="1.95"/>
<polygon points="126.6,600.05 129.70,603.0 126.6,605.95 123.50,603.0" fill="#fff" stroke="#000" stroke-width="1.95"/>
<polygon points="128.4,598.25 131.50,601.2 128.4,604.15 125.30,601.2" fill="#fff" stroke="#000" stroke-width="1.95"/>
<polygon points="129.8,596.85 132.90,599.8 129.8,602.75 126.70,599.8" fill="#fff" stroke="#000" stroke-width="1.95"/>
<line x1="110.8" y1="605.0" x2="133.2" y2="605.0" stroke="#000" stroke-width="2.4"/>
<polygon points="141.3,596.40 144.60,599.6 141.3,602.80 138.00,599.6" fill="#000"/>
<polygon points="143.0,598.20 146.30,601.4 143.0,604.60 139.70,601.4" fill="#000"/>
<polygon points="144.8,600.00 148.10,603.2 144.8,606.40 141.50,603.2" fill="#000"/>
<polygon points="146.6,601.80 149.90,605.0 146.6,608.20 143.30,605.0" fill="#000"/>
<polygon points="148.3,602.80 151.60,606.0 148.3,609.20 145.00,606.0" fill="#000"/>
<polygon points="150.0,601.80 153.30,605.0 150.0,608.20 146.70,605.0" fill="#000"/>
<polygon points="151.6,600.40 154.90,603.6 151.6,606.80 148.30,603.6" fill="#000"/>
<polygon points="153.0,598.80 156.30,602.0 153.0,605.20 149.70,602.0" fill="#000"/>
<polygon points="154.4,597.20 157.70,600.4 154.4,603.60 151.10,600.4" fill="#000"/>
<polygon points="155.8,595.70 159.10,598.9 155.8,602.10 152.50,598.9" fill="#000"/>
<line x1="137.7" y1="604.4" x2="159.3" y2="604.4" stroke="#000" stroke-width="2.4"/>
<polygon points="175.0,603.65 178.10,606.6 175.0,609.55 171.90,606.6" fill="#fff" stroke="#000" stroke-width="1.95"/>
<polygon points="180.8,608.25 183.90,611.2 180.8,614.15 177.70,611.2" fill="#fff" stroke="#000" stroke-width="1.95"/>
<polygon points="186.5,607.85 189.60,610.8 186.5,613.75 183.40,610.8" fill="#fff" stroke="#000" stroke-width="1.95"/>
<polygon points="175.0,611.25 178.10,614.2 175.0,617.15 171.90,614.2" fill="#fff" stroke="#000" stroke-width="1.95"/>
<polygon points="183.1,615.85 186.20,618.8 183.1,621.75 180.00,618.8" fill="#fff" stroke="#000" stroke-width="1.95"/>
<polygon points="174.3,619.85 177.40,622.8 174.3,625.75 171.20,622.8" fill="#fff" stroke="#000" stroke-width="1.95"/>
<polygon points="186.5,621.65 189.60,624.6 186.5,627.55 183.40,624.6" fill="#fff" stroke="#000" stroke-width="1.95"/>
<polygon points="180.3,627.45 183.40,630.4 180.3,633.35 177.20,630.4" fill="#fff" stroke="#000" stroke-width="1.95"/>
<polygon points="179.6,615.05 182.70,618.0 179.6,620.95 176.50,618.0" fill="#fff" stroke="#000" stroke-width="1.95"/>
<line x1="169.6" y1="619.5" x2="191.2" y2="619.5" stroke="#000" stroke-width="2.4"/>
<polygon points="212.6,607.10 215.90,610.3 212.6,613.50 209.30,610.3" fill="#000"/>
<polygon points="201.5,611.00 204.80,614.2 201.5,617.40 198.20,614.2" fill="#000"/>
<polygon points="207.3,614.50 210.60,617.7 207.3,620.90 204.00,617.7" fill="#000"/>
<polygon points="203.0,617.40 206.30,620.6 203.0,623.80 199.70,620.6" fill="#000"/>
<polygon points="205.4,619.60 208.70,622.8 205.4,626.00 202.10,622.8" fill="#000"/>
<polygon points="207.3,621.40 210.60,624.6 207.3,627.80 204.00,624.6" fill="#000"/>
<polygon points="209.4,619.60 212.70,622.8 209.4,626.00 206.10,622.8" fill="#000"/>
<polygon points="211.6,617.60 214.90,620.8 211.6,624.00 208.30,620.8" fill="#000"/>
<polygon points="207.3,624.80 210.60,628.0 207.3,631.20 204.00,628.0" fill="#000"/>
<line x1="196.5" y1="622.3" x2="217.7" y2="622.3" stroke="#000" stroke-width="2.4"/>
<polygon points="233.4,631.35 236.50,634.3 233.4,637.25 230.30,634.3" fill="#fff" stroke="#000" stroke-width="1.95"/>
<polygon points="243.5,631.35 246.60,634.3 243.5,637.25 240.40,634.3" fill="#fff" stroke="#000" stroke-width="1.95"/>
<polygon points="233.4,644.25 236.50,647.2 233.4,650.15 230.30,647.2" fill="#fff" stroke="#000" stroke-width="1.95"/>
<polygon points="245.0,644.25 248.10,647.2 245.0,650.15 241.90,647.2" fill="#fff" stroke="#000" stroke-width="1.95"/>
<polygon points="239.0,647.55 242.10,650.5 239.0,653.45 235.90,650.5" fill="#fff" stroke="#000" stroke-width="1.95"/>
<polygon points="235.7,654.05 238.80,657.0 235.7,659.95 232.60,657.0" fill="#fff" stroke="#000" stroke-width="1.95"/>
<polygon points="244.2,654.05 247.30,657.0 244.2,659.95 241.10,657.0" fill="#fff" stroke="#000" stroke-width="1.95"/>
<polygon points="240.8,659.05 243.90,662.0 240.8,664.95 237.70,662.0" fill="#fff" stroke="#000" stroke-width="1.95"/>
<polygon points="239.0,673.55 242.10,676.5 239.0,679.45 235.90,676.5" fill="#fff" stroke="#000" stroke-width="1.95"/>
<line x1="225.9" y1="651.2" x2="251.9" y2="651.2" stroke="#000" stroke-width="2.4"/>
<polygon points="265.7,628.30 269.00,631.5 265.7,634.70 262.40,631.5" fill="#000"/>
<polygon points="259.7,644.00 263.00,647.2 259.7,650.40 256.40,647.2" fill="#000"/>
<polygon points="271.2,644.00 274.50,647.2 271.2,650.40 267.90,647.2" fill="#000"/>
<polygon points="265.0,647.30 268.30,650.5 265.0,653.70 261.70,650.5" fill="#000"/>
<polygon points="261.5,656.00 264.80,659.2 261.5,662.40 258.20,659.2" fill="#000"/>
<polygon points="268.0,656.50 271.30,659.7 268.0,662.90 264.70,659.7" fill="#000"/>
<polygon points="270.3,678.70 273.60,681.9 270.3,685.10 267.00,681.9" fill="#000"/>
<polygon points="259.7,681.40 263.00,684.6 259.7,687.80 256.40,684.6" fill="#000"/>
<line x1="252.3" y1="659.1" x2="278.3" y2="659.1" stroke="#000" stroke-width="2.4"/>
<polygon points="297.3,609.75 300.40,612.7 297.3,615.65 294.20,612.7" fill="#fff" stroke="#000" stroke-width="1.95"/>
<polygon points="292.0,613.25 295.10,616.2 292.0,619.15 288.90,616.2" fill="#fff" stroke="#000" stroke-width="1.95"/>
<polygon points="302.6,613.25 305.70,616.2 302.6,619.15 299.50,616.2" fill="#fff" stroke="#000" stroke-width="1.95"/>
<polygon points="297.3,616.65 300.40,619.6 297.3,622.55 294.20,619.6" fill="#fff" stroke="#000" stroke-width="1.95"/>
<polygon points="294.3,621.25 297.40,624.2 294.3,627.15 291.20,624.2" fill="#fff" stroke="#000" stroke-width="1.95"/>
<polygon points="301.9,623.55 305.00,626.5 301.9,629.45 298.80,626.5" fill="#fff" stroke="#000" stroke-width="1.95"/>
<polygon points="293.4,627.55 296.50,630.5 293.4,633.45 290.30,630.5" fill="#fff" stroke="#000" stroke-width="1.95"/>
<polygon points="299.6,629.35 302.70,632.3 299.6,635.25 296.50,632.3" fill="#fff" stroke="#000" stroke-width="1.95"/>
<polygon points="295.0,632.05 298.10,635.0 295.0,637.95 291.90,635.0" fill="#fff" stroke="#000" stroke-width="1.95"/>
<line x1="286.5" y1="623.8" x2="307.7" y2="623.8" stroke="#000" stroke-width="2.4"/>
<polygon points="314.2,614.10 317.50,617.3 314.2,620.50 310.90,617.3" fill="#000"/>
<polygon points="318.8,617.10 322.10,620.3 318.8,623.50 315.50,620.3" fill="#000"/>
<polygon points="328.9,613.40 332.20,616.6 328.9,619.80 325.60,616.6" fill="#000"/>
<polygon points="328.9,622.80 332.20,626.0 328.9,629.20 325.60,626.0" fill="#000"/>
<polygon points="318.8,634.40 322.10,637.6 318.8,640.80 315.50,637.6" fill="#000"/>
<polygon points="329.6,634.40 332.90,637.6 329.6,640.80 326.30,637.6" fill="#000"/>
<polygon points="323.8,641.10 327.10,644.3 323.8,647.50 320.50,644.3" fill="#000"/>
<polygon points="318.8,648.70 322.10,651.9 318.8,655.10 315.50,651.9" fill="#000"/>
<polygon points="328.5,652.70 331.80,655.9 328.5,659.10 325.20,655.9" fill="#000"/>
<polygon points="323.8,674.80 327.10,678.0 323.8,681.20 320.50,678.0" fill="#000"/>
<line x1="313.5" y1="637.6" x2="334.7" y2="637.6" stroke="#000" stroke-width="2.4"/>
<text x="310.0" y="593.2" text-anchor="middle" font-size="12.5" >**</text>
<line x1="297.3" y1="597.7" x2="319.7" y2="597.7" stroke="#000" stroke-width="2"/>
<polygon points="351.1,621.25 354.20,624.2 351.1,627.15 348.00,624.2" fill="#fff" stroke="#000" stroke-width="1.95"/>
<polygon points="361.2,622.05 364.30,625.0 361.2,627.95 358.10,625.0" fill="#fff" stroke="#000" stroke-width="1.95"/>
<polygon points="357.3,625.85 360.40,628.8 357.3,631.75 354.20,628.8" fill="#fff" stroke="#000" stroke-width="1.95"/>
<polygon points="355.0,639.05 358.10,642.0 355.0,644.95 351.90,642.0" fill="#fff" stroke="#000" stroke-width="1.95"/>
<polygon points="350.4,642.75 353.50,645.7 350.4,648.65 347.30,645.7" fill="#fff" stroke="#000" stroke-width="1.95"/>
<polygon points="360.8,647.85 363.90,650.8 360.8,653.75 357.70,650.8" fill="#fff" stroke="#000" stroke-width="1.95"/>
<polygon points="353.4,650.55 356.50,653.5 353.4,656.45 350.30,653.5" fill="#fff" stroke="#000" stroke-width="1.95"/>
<polygon points="358.5,652.05 361.60,655.0 358.5,657.95 355.40,655.0" fill="#fff" stroke="#000" stroke-width="1.95"/>
<polygon points="355.7,661.25 358.80,664.2 355.7,667.15 352.60,664.2" fill="#fff" stroke="#000" stroke-width="1.95"/>
<line x1="345.3" y1="644.3" x2="366.5" y2="644.3" stroke="#000" stroke-width="2.4"/>
<polygon points="377.0,633.80 380.30,637.0 377.0,640.20 373.70,637.0" fill="#000"/>
<polygon points="382.0,635.30 385.30,638.5 382.0,641.70 378.70,638.5" fill="#000"/>
<polygon points="388.0,633.80 391.30,637.0 388.0,640.20 384.70,637.0" fill="#000"/>
<polygon points="382.0,644.80 385.30,648.0 382.0,651.20 378.70,648.0" fill="#000"/>
<polygon points="377.0,651.00 380.30,654.2 377.0,657.40 373.70,654.2" fill="#000"/>
<polygon points="392.4,655.70 395.70,658.9 392.4,662.10 389.10,658.9" fill="#000"/>
<polygon points="377.0,666.00 380.30,669.2 377.0,672.40 373.70,669.2" fill="#000"/>
<polygon points="386.6,664.20 389.90,667.4 386.6,670.60 383.30,667.4" fill="#000"/>
<polygon points="382.0,682.80 385.30,686.0 382.0,689.20 378.70,686.0" fill="#000"/>
<polygon points="382.0,706.40 385.30,709.6 382.0,712.80 378.70,709.6" fill="#000"/>
<line x1="371.9" y1="656.5" x2="393.1" y2="656.5" stroke="#000" stroke-width="2.4"/>
<text x="370.7" y="604.1" text-anchor="middle" font-size="12.5" >**</text>
<line x1="358.5" y1="608.0" x2="380.9" y2="608.0" stroke="#000" stroke-width="2"/>
<polygon points="414.3,699.05 417.40,702.0 414.3,704.95 411.20,702.0" fill="#fff" stroke="#000" stroke-width="1.95"/>
<polygon points="414.3,717.05 417.40,720.0 414.3,722.95 411.20,720.0" fill="#fff" stroke="#000" stroke-width="1.95"/>
<polygon points="408.6,728.05 411.70,731.0 408.6,733.95 405.50,731.0" fill="#fff" stroke="#000" stroke-width="1.95"/>
<polygon points="419.2,727.35 422.30,730.3 419.2,733.25 416.10,730.3" fill="#fff" stroke="#000" stroke-width="1.95"/>
<polygon points="414.3,732.25 417.40,735.2 414.3,738.15 411.20,735.2" fill="#fff" stroke="#000" stroke-width="1.95"/>
<polygon points="408.6,738.65 411.70,741.6 408.6,744.55 405.50,741.6" fill="#fff" stroke="#000" stroke-width="1.95"/>
<polygon points="419.2,737.25 422.30,740.2 419.2,743.15 416.10,740.2" fill="#fff" stroke="#000" stroke-width="1.95"/>
<polygon points="414.3,742.85 417.40,745.8 414.3,748.75 411.20,745.8" fill="#fff" stroke="#000" stroke-width="1.95"/>
<polygon points="414.3,755.05 417.40,758.0 414.3,760.95 411.20,758.0" fill="#fff" stroke="#000" stroke-width="1.95"/>
<line x1="403.0" y1="736.7" x2="424.6" y2="736.7" stroke="#000" stroke-width="2.4"/>
<polygon points="440.6,719.80 443.90,723.0 440.6,726.20 437.30,723.0" fill="#000"/>
<polygon points="435.7,727.80 439.00,731.0 435.7,734.20 432.40,731.0" fill="#000"/>
<polygon points="445.5,727.10 448.80,730.3 445.5,733.50 442.20,730.3" fill="#000"/>
<polygon points="440.6,730.30 443.90,733.5 440.6,736.70 437.30,733.5" fill="#000"/>
<polygon points="435.7,740.10 439.00,743.3 435.7,746.50 432.40,743.3" fill="#000"/>
<polygon points="445.5,741.40 448.80,744.6 445.5,747.80 442.20,744.6" fill="#000"/>
<polygon points="440.6,747.50 443.90,750.7 440.6,753.90 437.30,750.7" fill="#000"/>
<polygon points="438.0,733.80 441.30,737.0 438.0,740.20 434.70,737.0" fill="#000"/>
<polygon points="443.4,734.80 446.70,738.0 443.4,741.20 440.10,738.0" fill="#000"/>
<line x1="430.0" y1="735.2" x2="451.2" y2="735.2" stroke="#000" stroke-width="2.4"/>
<polygon points="472.0,656.05 475.10,659.0 472.0,661.95 468.90,659.0" fill="#fff" stroke="#000" stroke-width="1.95"/>
<polygon points="466.9,669.05 470.00,672.0 466.9,674.95 463.80,672.0" fill="#fff" stroke="#000" stroke-width="1.95"/>
<polygon points="477.5,671.55 480.60,674.5 477.5,677.45 474.40,674.5" fill="#fff" stroke="#000" stroke-width="1.95"/>
<polygon points="472.5,674.05 475.60,677.0 472.5,679.95 469.40,677.0" fill="#fff" stroke="#000" stroke-width="1.95"/>
<polygon points="462.0,682.05 465.10,685.0 462.0,687.95 458.90,685.0" fill="#fff" stroke="#000" stroke-width="1.95"/>
<polygon points="477.5,681.35 480.60,684.3 477.5,687.25 474.40,684.3" fill="#fff" stroke="#000" stroke-width="1.95"/>
<polygon points="467.6,690.05 470.70,693.0 467.6,695.95 464.50,693.0" fill="#fff" stroke="#000" stroke-width="1.95"/>
<polygon points="477.5,695.65 480.60,698.6 477.5,701.55 474.40,698.6" fill="#fff" stroke="#000" stroke-width="1.95"/>
<polygon points="472.0,726.35 475.10,729.3 472.0,732.25 468.90,729.3" fill="#fff" stroke="#000" stroke-width="1.95"/>
<line x1="461.5" y1="679.4" x2="483.1" y2="679.4" stroke="#000" stroke-width="2.4"/>
<polygon points="503.8,660.70 507.10,663.9 503.8,667.10 500.50,663.9" fill="#000"/>
<polygon points="493.9,664.70 497.20,667.9 493.9,671.10 490.60,667.9" fill="#000"/>
<polygon points="500.8,667.10 504.10,670.3 500.8,673.50 497.50,670.3" fill="#000"/>
<polygon points="495.9,672.50 499.20,675.7 495.9,678.90 492.60,675.7" fill="#000"/>
<polygon points="505.2,678.70 508.50,681.9 505.2,685.10 501.90,681.9" fill="#000"/>
<polygon points="493.4,688.00 496.70,691.2 493.4,694.40 490.10,691.2" fill="#000"/>
<polygon points="504.5,688.00 507.80,691.2 504.5,694.40 501.20,691.2" fill="#000"/>
<polygon points="498.4,700.30 501.70,703.5 498.4,706.70 495.10,703.5" fill="#000"/>
<polygon points="498.4,730.30 501.70,733.5 498.4,736.70 495.10,733.5" fill="#000"/>
<line x1="488.0" y1="678.7" x2="509.4" y2="678.7" stroke="#000" stroke-width="2.4"/>
</svg>
</body>
</html>
